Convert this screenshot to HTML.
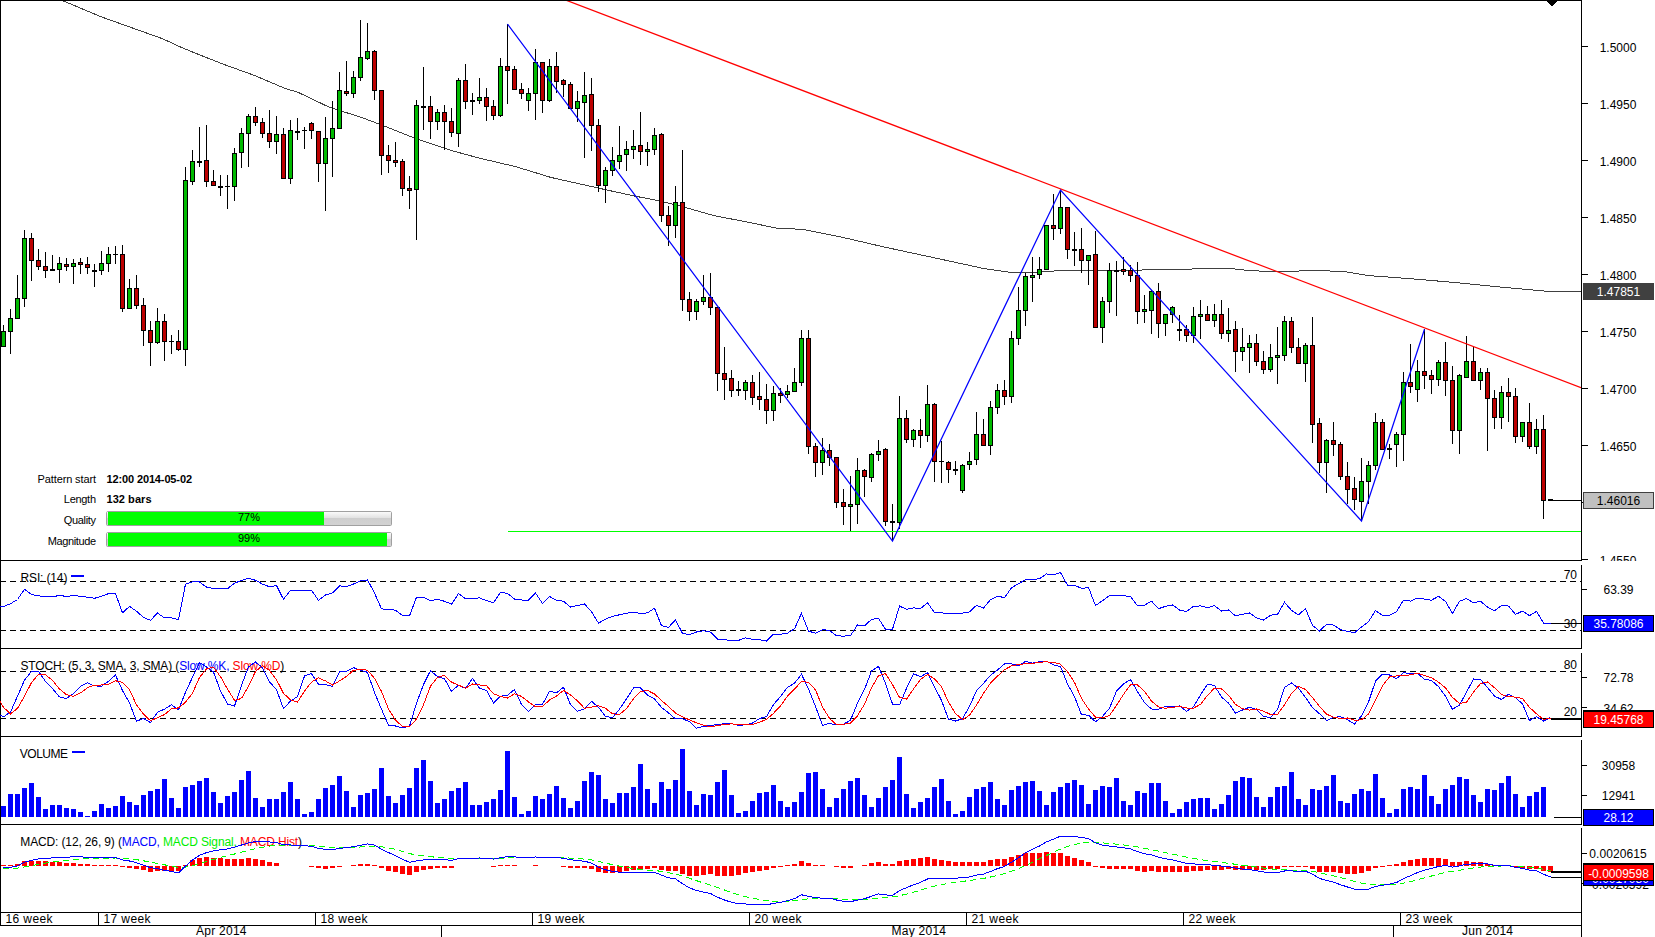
<!DOCTYPE html>
<html><head><meta charset="utf-8"><title>Chart</title>
<style>
html,body{margin:0;padding:0;background:#fff;}
body{width:1655px;height:937px;overflow:hidden;}
svg{display:block;font-family:"Liberation Sans",Arial,sans-serif;font-size:12px;}
.tah{font-family:"Liberation Sans",sans-serif;font-size:11px;}
</style></head><body>
<svg width="1655" height="937" viewBox="0 0 1655 937">
<rect width="1655" height="937" fill="#fff"/>
<g shape-rendering="crispEdges">
<rect x="0" y="0" width="1582" height="1" fill="#000" />
<rect x="0" y="0" width="1" height="926" fill="#000" />
<rect x="0" y="560" width="1582" height="1" fill="#000" />
<rect x="0" y="648" width="1582" height="1" fill="#000" />
<rect x="0" y="736" width="1582" height="1" fill="#000" />
<rect x="0" y="824" width="1582" height="1" fill="#000" />
<rect x="0" y="912" width="1582" height="1" fill="#000" />
<rect x="0" y="925" width="1582" height="1" fill="#000" />
<rect x="1581" y="0" width="1" height="561" fill="#000" />
<rect x="1581" y="565" width="1" height="84" fill="#000" />
<rect x="1581" y="653" width="1" height="84" fill="#000" />
<rect x="1581" y="740" width="1" height="85" fill="#000" />
<rect x="1581" y="828" width="1" height="109" fill="#000" />
</g>
<defs><clipPath id="cm"><rect x="1" y="1" width="1580" height="559"/></clipPath><linearGradient id="pg" x1="0" y1="0" x2="0" y2="1"><stop offset="0" stop-color="#fafafa"/><stop offset="0.45" stop-color="#e2e2e2"/><stop offset="0.5" stop-color="#cecece"/><stop offset="1" stop-color="#d2d2d2"/></linearGradient><clipPath id="cax"><rect x="1582" y="0" width="73" height="561"/></clipPath></defs>
<g clip-path="url(#cm)">
<polyline fill="none" stroke="#404040" stroke-width="1" shape-rendering="crispEdges" points="61.2,0.0 101.6,17.0 162.8,38.8 182.2,47.8 196.0,53.4 222.7,64.0 254.7,75.5 284.0,88.0 298.7,92.6 329.4,107.3 361.4,117.4 382.8,125.4 417.5,139.3 452.1,150.7 478.8,158.0 516.2,166.8 550.8,177.4 596.2,187.6 616.0,192.0 637.3,196.6 660.0,200.9 682.7,206.7 714.7,215.8 744.0,221.4 776.0,228.0 802.8,229.4 842.8,237.4 882.8,246.7 936.2,258.2 984.2,268.6 1010.9,272.4 1036.0,272.5 1062.7,270.3 1102.7,270.6 1156.0,269.8 1206.8,268.7 1230.8,268.5 1249.4,270.6 1276.1,271.7 1302.8,270.9 1316.1,270.6 1342.8,271.4 1369.5,275.7 1409.5,278.6 1456.0,282.6 1500.0,287.0 1550.0,291.5 1581.0,291.5"/>
<g shape-rendering="crispEdges">
<rect x="3" y="325" width="1" height="22" fill="#000" />
<rect x="1" y="331" width="5" height="16" fill="#000" />
<rect x="2" y="332" width="3" height="14" fill="#00ba00" />
<rect x="10" y="309" width="1" height="45" fill="#000" />
<rect x="8" y="318" width="5" height="14" fill="#000" />
<rect x="9" y="319" width="3" height="12" fill="#00ba00" />
<rect x="17" y="275" width="1" height="44" fill="#000" />
<rect x="15" y="298" width="5" height="21" fill="#000" />
<rect x="16" y="299" width="3" height="19" fill="#00ba00" />
<rect x="24" y="230" width="1" height="77" fill="#000" />
<rect x="22" y="238" width="5" height="61" fill="#000" />
<rect x="23" y="239" width="3" height="59" fill="#00ba00" />
<rect x="31" y="233" width="1" height="48" fill="#000" />
<rect x="29" y="238" width="5" height="23" fill="#000" />
<rect x="30" y="239" width="3" height="21" fill="#bc0000" />
<rect x="38" y="249" width="1" height="21" fill="#000" />
<rect x="36" y="260" width="5" height="7" fill="#000" />
<rect x="37" y="261" width="3" height="5" fill="#bc0000" />
<rect x="45" y="252" width="1" height="26" fill="#000" />
<rect x="43" y="266" width="5" height="5" fill="#000" />
<rect x="44" y="267" width="3" height="3" fill="#bc0000" />
<rect x="52" y="255" width="1" height="16" fill="#000" />
<rect x="50" y="269" width="5" height="2" fill="#000" />
<rect x="59" y="257" width="1" height="26" fill="#000" />
<rect x="57" y="263" width="5" height="7" fill="#000" />
<rect x="58" y="264" width="3" height="5" fill="#00ba00" />
<rect x="66" y="258" width="1" height="13" fill="#000" />
<rect x="64" y="264" width="5" height="3" fill="#000" />
<rect x="65" y="265" width="3" height="1" fill="#bc0000" />
<rect x="73" y="259" width="1" height="25" fill="#000" />
<rect x="71" y="263" width="5" height="4" fill="#000" />
<rect x="72" y="264" width="3" height="2" fill="#00ba00" />
<rect x="80" y="258" width="1" height="16" fill="#000" />
<rect x="78" y="262" width="5" height="3" fill="#000" />
<rect x="79" y="263" width="3" height="1" fill="#bc0000" />
<rect x="87" y="257" width="1" height="17" fill="#000" />
<rect x="85" y="264" width="5" height="4" fill="#000" />
<rect x="86" y="265" width="3" height="2" fill="#bc0000" />
<rect x="94" y="264" width="1" height="23" fill="#000" />
<rect x="92" y="270" width="5" height="2" fill="#000" />
<rect x="101" y="251" width="1" height="24" fill="#000" />
<rect x="99" y="263" width="5" height="8" fill="#000" />
<rect x="100" y="264" width="3" height="6" fill="#00ba00" />
<rect x="108" y="247" width="1" height="25" fill="#000" />
<rect x="106" y="254" width="5" height="10" fill="#000" />
<rect x="107" y="255" width="3" height="8" fill="#00ba00" />
<rect x="115" y="246" width="1" height="18" fill="#000" />
<rect x="113" y="254" width="5" height="1" fill="#000" />
<rect x="122" y="245" width="1" height="67" fill="#000" />
<rect x="120" y="254" width="5" height="55" fill="#000" />
<rect x="121" y="255" width="3" height="53" fill="#bc0000" />
<rect x="129" y="279" width="1" height="30" fill="#000" />
<rect x="127" y="288" width="5" height="21" fill="#000" />
<rect x="128" y="289" width="3" height="19" fill="#00ba00" />
<rect x="136" y="275" width="1" height="34" fill="#000" />
<rect x="134" y="288" width="5" height="18" fill="#000" />
<rect x="135" y="289" width="3" height="16" fill="#bc0000" />
<rect x="143" y="298" width="1" height="48" fill="#000" />
<rect x="141" y="305" width="5" height="26" fill="#000" />
<rect x="142" y="306" width="3" height="24" fill="#bc0000" />
<rect x="150" y="321" width="1" height="45" fill="#000" />
<rect x="148" y="330" width="5" height="13" fill="#000" />
<rect x="149" y="331" width="3" height="11" fill="#bc0000" />
<rect x="157" y="308" width="1" height="36" fill="#000" />
<rect x="155" y="321" width="5" height="22" fill="#000" />
<rect x="156" y="322" width="3" height="20" fill="#00ba00" />
<rect x="164" y="314" width="1" height="47" fill="#000" />
<rect x="162" y="321" width="5" height="21" fill="#000" />
<rect x="163" y="322" width="3" height="19" fill="#bc0000" />
<rect x="171" y="335" width="1" height="19" fill="#000" />
<rect x="169" y="341" width="5" height="1" fill="#000" />
<rect x="178" y="330" width="1" height="21" fill="#000" />
<rect x="176" y="341" width="5" height="9" fill="#000" />
<rect x="177" y="342" width="3" height="7" fill="#bc0000" />
<rect x="185" y="167" width="1" height="199" fill="#000" />
<rect x="183" y="180" width="5" height="170" fill="#000" />
<rect x="184" y="181" width="3" height="168" fill="#00ba00" />
<rect x="192" y="150" width="1" height="35" fill="#000" />
<rect x="190" y="161" width="5" height="21" fill="#000" />
<rect x="191" y="162" width="3" height="19" fill="#00ba00" />
<rect x="199" y="127" width="1" height="40" fill="#000" />
<rect x="197" y="161" width="5" height="2" fill="#000" />
<rect x="206" y="125" width="1" height="62" fill="#000" />
<rect x="204" y="160" width="5" height="22" fill="#000" />
<rect x="205" y="161" width="3" height="20" fill="#bc0000" />
<rect x="213" y="170" width="1" height="16" fill="#000" />
<rect x="211" y="181" width="5" height="5" fill="#000" />
<rect x="212" y="182" width="3" height="3" fill="#bc0000" />
<rect x="220" y="175" width="1" height="21" fill="#000" />
<rect x="218" y="186" width="5" height="2" fill="#000" />
<rect x="227" y="175" width="1" height="34" fill="#000" />
<rect x="225" y="186" width="5" height="1" fill="#000" />
<rect x="234" y="148" width="1" height="53" fill="#000" />
<rect x="232" y="153" width="5" height="34" fill="#000" />
<rect x="233" y="154" width="3" height="32" fill="#00ba00" />
<rect x="241" y="128" width="1" height="40" fill="#000" />
<rect x="239" y="133" width="5" height="20" fill="#000" />
<rect x="240" y="134" width="3" height="18" fill="#00ba00" />
<rect x="248" y="114" width="1" height="53" fill="#000" />
<rect x="246" y="116" width="5" height="18" fill="#000" />
<rect x="247" y="117" width="3" height="16" fill="#00ba00" />
<rect x="255" y="107" width="1" height="19" fill="#000" />
<rect x="253" y="116" width="5" height="7" fill="#000" />
<rect x="254" y="117" width="3" height="5" fill="#bc0000" />
<rect x="262" y="118" width="1" height="20" fill="#000" />
<rect x="260" y="122" width="5" height="12" fill="#000" />
<rect x="261" y="123" width="3" height="10" fill="#bc0000" />
<rect x="269" y="110" width="1" height="38" fill="#000" />
<rect x="267" y="133" width="5" height="9" fill="#000" />
<rect x="268" y="134" width="3" height="7" fill="#bc0000" />
<rect x="276" y="116" width="1" height="38" fill="#000" />
<rect x="274" y="134" width="5" height="8" fill="#000" />
<rect x="275" y="135" width="3" height="6" fill="#00ba00" />
<rect x="283" y="128" width="1" height="51" fill="#000" />
<rect x="281" y="134" width="5" height="45" fill="#000" />
<rect x="282" y="135" width="3" height="43" fill="#bc0000" />
<rect x="290" y="120" width="1" height="64" fill="#000" />
<rect x="288" y="130" width="5" height="49" fill="#000" />
<rect x="289" y="131" width="3" height="47" fill="#00ba00" />
<rect x="297" y="118" width="1" height="22" fill="#000" />
<rect x="295" y="131" width="5" height="2" fill="#000" />
<rect x="304" y="127" width="1" height="22" fill="#000" />
<rect x="302" y="130" width="5" height="1" fill="#000" />
<rect x="311" y="122" width="1" height="17" fill="#000" />
<rect x="309" y="123" width="5" height="8" fill="#000" />
<rect x="310" y="124" width="3" height="6" fill="#bc0000" />
<rect x="318" y="131" width="1" height="51" fill="#000" />
<rect x="316" y="131" width="5" height="33" fill="#000" />
<rect x="317" y="132" width="3" height="31" fill="#bc0000" />
<rect x="325" y="117" width="1" height="94" fill="#000" />
<rect x="323" y="138" width="5" height="26" fill="#000" />
<rect x="324" y="139" width="3" height="24" fill="#00ba00" />
<rect x="332" y="101" width="1" height="76" fill="#000" />
<rect x="330" y="128" width="5" height="11" fill="#000" />
<rect x="331" y="129" width="3" height="9" fill="#00ba00" />
<rect x="339" y="72" width="1" height="57" fill="#000" />
<rect x="337" y="90" width="5" height="39" fill="#000" />
<rect x="338" y="91" width="3" height="37" fill="#00ba00" />
<rect x="346" y="61" width="1" height="35" fill="#000" />
<rect x="344" y="91" width="5" height="3" fill="#000" />
<rect x="345" y="92" width="3" height="1" fill="#bc0000" />
<rect x="353" y="71" width="1" height="27" fill="#000" />
<rect x="351" y="77" width="5" height="17" fill="#000" />
<rect x="352" y="78" width="3" height="15" fill="#00ba00" />
<rect x="360" y="20" width="1" height="61" fill="#000" />
<rect x="358" y="57" width="5" height="21" fill="#000" />
<rect x="359" y="58" width="3" height="19" fill="#00ba00" />
<rect x="367" y="23" width="1" height="37" fill="#000" />
<rect x="365" y="51" width="5" height="8" fill="#000" />
<rect x="366" y="52" width="3" height="6" fill="#00ba00" />
<rect x="374" y="50" width="1" height="50" fill="#000" />
<rect x="372" y="51" width="5" height="40" fill="#000" />
<rect x="373" y="52" width="3" height="38" fill="#bc0000" />
<rect x="381" y="90" width="1" height="85" fill="#000" />
<rect x="379" y="90" width="5" height="66" fill="#000" />
<rect x="380" y="91" width="3" height="64" fill="#bc0000" />
<rect x="388" y="145" width="1" height="28" fill="#000" />
<rect x="386" y="155" width="5" height="6" fill="#000" />
<rect x="387" y="156" width="3" height="4" fill="#bc0000" />
<rect x="395" y="142" width="1" height="25" fill="#000" />
<rect x="393" y="160" width="5" height="3" fill="#000" />
<rect x="394" y="161" width="3" height="1" fill="#bc0000" />
<rect x="402" y="159" width="1" height="37" fill="#000" />
<rect x="400" y="161" width="5" height="28" fill="#000" />
<rect x="401" y="162" width="3" height="26" fill="#bc0000" />
<rect x="409" y="176" width="1" height="33" fill="#000" />
<rect x="407" y="188" width="5" height="3" fill="#000" />
<rect x="408" y="189" width="3" height="1" fill="#bc0000" />
<rect x="416" y="100" width="1" height="140" fill="#000" />
<rect x="414" y="105" width="5" height="85" fill="#000" />
<rect x="415" y="106" width="3" height="83" fill="#00ba00" />
<rect x="423" y="67" width="1" height="63" fill="#000" />
<rect x="421" y="106" width="5" height="2" fill="#000" />
<rect x="430" y="96" width="1" height="43" fill="#000" />
<rect x="428" y="106" width="5" height="16" fill="#000" />
<rect x="429" y="107" width="3" height="14" fill="#bc0000" />
<rect x="437" y="109" width="1" height="21" fill="#000" />
<rect x="435" y="112" width="5" height="10" fill="#000" />
<rect x="436" y="113" width="3" height="8" fill="#00ba00" />
<rect x="444" y="105" width="1" height="45" fill="#000" />
<rect x="442" y="112" width="5" height="10" fill="#000" />
<rect x="443" y="113" width="3" height="8" fill="#bc0000" />
<rect x="451" y="108" width="1" height="29" fill="#000" />
<rect x="449" y="121" width="5" height="12" fill="#000" />
<rect x="450" y="122" width="3" height="10" fill="#bc0000" />
<rect x="458" y="78" width="1" height="69" fill="#000" />
<rect x="456" y="80" width="5" height="54" fill="#000" />
<rect x="457" y="81" width="3" height="52" fill="#00ba00" />
<rect x="465" y="64" width="1" height="45" fill="#000" />
<rect x="463" y="80" width="5" height="22" fill="#000" />
<rect x="464" y="81" width="3" height="20" fill="#bc0000" />
<rect x="472" y="93" width="1" height="22" fill="#000" />
<rect x="470" y="100" width="5" height="2" fill="#000" />
<rect x="479" y="78" width="1" height="26" fill="#000" />
<rect x="477" y="97" width="5" height="4" fill="#000" />
<rect x="478" y="98" width="3" height="2" fill="#00ba00" />
<rect x="486" y="88" width="1" height="33" fill="#000" />
<rect x="484" y="97" width="5" height="10" fill="#000" />
<rect x="485" y="98" width="3" height="8" fill="#bc0000" />
<rect x="493" y="100" width="1" height="20" fill="#000" />
<rect x="491" y="106" width="5" height="10" fill="#000" />
<rect x="492" y="107" width="3" height="8" fill="#bc0000" />
<rect x="500" y="58" width="1" height="59" fill="#000" />
<rect x="498" y="66" width="5" height="50" fill="#000" />
<rect x="499" y="67" width="3" height="48" fill="#00ba00" />
<rect x="507" y="24" width="1" height="80" fill="#000" />
<rect x="505" y="66" width="5" height="5" fill="#000" />
<rect x="506" y="67" width="3" height="3" fill="#bc0000" />
<rect x="514" y="66" width="1" height="24" fill="#000" />
<rect x="512" y="69" width="5" height="21" fill="#000" />
<rect x="513" y="70" width="3" height="19" fill="#bc0000" />
<rect x="521" y="83" width="1" height="16" fill="#000" />
<rect x="519" y="89" width="5" height="5" fill="#000" />
<rect x="520" y="90" width="3" height="3" fill="#bc0000" />
<rect x="528" y="88" width="1" height="23" fill="#000" />
<rect x="526" y="93" width="5" height="8" fill="#000" />
<rect x="527" y="94" width="3" height="6" fill="#00ba00" />
<rect x="535" y="49" width="1" height="71" fill="#000" />
<rect x="533" y="62" width="5" height="32" fill="#000" />
<rect x="534" y="63" width="3" height="30" fill="#00ba00" />
<rect x="542" y="62" width="1" height="51" fill="#000" />
<rect x="540" y="62" width="5" height="39" fill="#000" />
<rect x="541" y="63" width="3" height="37" fill="#bc0000" />
<rect x="549" y="59" width="1" height="43" fill="#000" />
<rect x="547" y="66" width="5" height="35" fill="#000" />
<rect x="548" y="67" width="3" height="33" fill="#00ba00" />
<rect x="556" y="52" width="1" height="41" fill="#000" />
<rect x="554" y="66" width="5" height="16" fill="#000" />
<rect x="555" y="67" width="3" height="14" fill="#bc0000" />
<rect x="563" y="79" width="1" height="18" fill="#000" />
<rect x="561" y="80" width="5" height="5" fill="#000" />
<rect x="562" y="81" width="3" height="3" fill="#bc0000" />
<rect x="570" y="82" width="1" height="27" fill="#000" />
<rect x="568" y="84" width="5" height="25" fill="#000" />
<rect x="569" y="85" width="3" height="23" fill="#bc0000" />
<rect x="577" y="91" width="1" height="31" fill="#000" />
<rect x="575" y="101" width="5" height="8" fill="#000" />
<rect x="576" y="102" width="3" height="6" fill="#00ba00" />
<rect x="584" y="72" width="1" height="86" fill="#000" />
<rect x="582" y="95" width="5" height="8" fill="#000" />
<rect x="583" y="96" width="3" height="6" fill="#00ba00" />
<rect x="591" y="78" width="1" height="73" fill="#000" />
<rect x="589" y="94" width="5" height="32" fill="#000" />
<rect x="590" y="95" width="3" height="30" fill="#bc0000" />
<rect x="598" y="119" width="1" height="73" fill="#000" />
<rect x="596" y="125" width="5" height="61" fill="#000" />
<rect x="597" y="126" width="3" height="59" fill="#bc0000" />
<rect x="605" y="167" width="1" height="36" fill="#000" />
<rect x="603" y="170" width="5" height="16" fill="#000" />
<rect x="604" y="171" width="3" height="14" fill="#00ba00" />
<rect x="612" y="147" width="1" height="29" fill="#000" />
<rect x="610" y="160" width="5" height="11" fill="#000" />
<rect x="611" y="161" width="3" height="9" fill="#00ba00" />
<rect x="619" y="126" width="1" height="43" fill="#000" />
<rect x="617" y="155" width="5" height="7" fill="#000" />
<rect x="618" y="156" width="3" height="5" fill="#00ba00" />
<rect x="626" y="141" width="1" height="30" fill="#000" />
<rect x="624" y="149" width="5" height="6" fill="#000" />
<rect x="625" y="150" width="3" height="4" fill="#00ba00" />
<rect x="633" y="130" width="1" height="29" fill="#000" />
<rect x="631" y="146" width="5" height="4" fill="#000" />
<rect x="632" y="147" width="3" height="2" fill="#00ba00" />
<rect x="640" y="112" width="1" height="53" fill="#000" />
<rect x="638" y="145" width="5" height="7" fill="#000" />
<rect x="639" y="146" width="3" height="5" fill="#bc0000" />
<rect x="647" y="142" width="1" height="24" fill="#000" />
<rect x="645" y="149" width="5" height="3" fill="#000" />
<rect x="646" y="150" width="3" height="1" fill="#00ba00" />
<rect x="654" y="128" width="1" height="27" fill="#000" />
<rect x="652" y="135" width="5" height="15" fill="#000" />
<rect x="653" y="136" width="3" height="13" fill="#00ba00" />
<rect x="661" y="133" width="1" height="89" fill="#000" />
<rect x="659" y="134" width="5" height="82" fill="#000" />
<rect x="660" y="135" width="3" height="80" fill="#bc0000" />
<rect x="668" y="206" width="1" height="40" fill="#000" />
<rect x="666" y="215" width="5" height="11" fill="#000" />
<rect x="667" y="216" width="3" height="9" fill="#bc0000" />
<rect x="675" y="186" width="1" height="52" fill="#000" />
<rect x="673" y="202" width="5" height="24" fill="#000" />
<rect x="674" y="203" width="3" height="22" fill="#00ba00" />
<rect x="682" y="150" width="1" height="161" fill="#000" />
<rect x="680" y="202" width="5" height="98" fill="#000" />
<rect x="681" y="203" width="3" height="96" fill="#bc0000" />
<rect x="689" y="292" width="1" height="29" fill="#000" />
<rect x="687" y="299" width="5" height="13" fill="#000" />
<rect x="688" y="300" width="3" height="11" fill="#bc0000" />
<rect x="696" y="299" width="1" height="21" fill="#000" />
<rect x="694" y="301" width="5" height="11" fill="#000" />
<rect x="695" y="302" width="3" height="9" fill="#00ba00" />
<rect x="703" y="275" width="1" height="30" fill="#000" />
<rect x="701" y="297" width="5" height="5" fill="#000" />
<rect x="702" y="298" width="3" height="3" fill="#00ba00" />
<rect x="710" y="273" width="1" height="42" fill="#000" />
<rect x="708" y="297" width="5" height="11" fill="#000" />
<rect x="709" y="298" width="3" height="9" fill="#bc0000" />
<rect x="717" y="307" width="1" height="84" fill="#000" />
<rect x="715" y="307" width="5" height="67" fill="#000" />
<rect x="716" y="308" width="3" height="65" fill="#bc0000" />
<rect x="724" y="347" width="1" height="53" fill="#000" />
<rect x="722" y="373" width="5" height="7" fill="#000" />
<rect x="723" y="374" width="3" height="5" fill="#bc0000" />
<rect x="731" y="370" width="1" height="27" fill="#000" />
<rect x="729" y="378" width="5" height="13" fill="#000" />
<rect x="730" y="379" width="3" height="11" fill="#bc0000" />
<rect x="738" y="381" width="1" height="15" fill="#000" />
<rect x="736" y="389" width="5" height="2" fill="#000" />
<rect x="745" y="380" width="1" height="20" fill="#000" />
<rect x="743" y="382" width="5" height="9" fill="#000" />
<rect x="744" y="383" width="3" height="7" fill="#00ba00" />
<rect x="752" y="375" width="1" height="30" fill="#000" />
<rect x="750" y="382" width="5" height="16" fill="#000" />
<rect x="751" y="383" width="3" height="14" fill="#bc0000" />
<rect x="759" y="372" width="1" height="38" fill="#000" />
<rect x="757" y="396" width="5" height="4" fill="#000" />
<rect x="758" y="397" width="3" height="2" fill="#bc0000" />
<rect x="766" y="384" width="1" height="40" fill="#000" />
<rect x="764" y="399" width="5" height="12" fill="#000" />
<rect x="765" y="400" width="3" height="10" fill="#bc0000" />
<rect x="773" y="386" width="1" height="35" fill="#000" />
<rect x="771" y="393" width="5" height="18" fill="#000" />
<rect x="772" y="394" width="3" height="16" fill="#00ba00" />
<rect x="780" y="388" width="1" height="15" fill="#000" />
<rect x="778" y="393" width="5" height="3" fill="#000" />
<rect x="779" y="394" width="3" height="1" fill="#bc0000" />
<rect x="787" y="385" width="1" height="13" fill="#000" />
<rect x="785" y="391" width="5" height="4" fill="#000" />
<rect x="786" y="392" width="3" height="2" fill="#00ba00" />
<rect x="794" y="368" width="1" height="24" fill="#000" />
<rect x="792" y="382" width="5" height="10" fill="#000" />
<rect x="793" y="383" width="3" height="8" fill="#00ba00" />
<rect x="801" y="330" width="1" height="56" fill="#000" />
<rect x="799" y="338" width="5" height="45" fill="#000" />
<rect x="800" y="339" width="3" height="43" fill="#00ba00" />
<rect x="808" y="330" width="1" height="124" fill="#000" />
<rect x="806" y="338" width="5" height="109" fill="#000" />
<rect x="807" y="339" width="3" height="107" fill="#bc0000" />
<rect x="815" y="443" width="1" height="34" fill="#000" />
<rect x="813" y="446" width="5" height="17" fill="#000" />
<rect x="814" y="447" width="3" height="15" fill="#bc0000" />
<rect x="822" y="438" width="1" height="37" fill="#000" />
<rect x="820" y="450" width="5" height="13" fill="#000" />
<rect x="821" y="451" width="3" height="11" fill="#00ba00" />
<rect x="829" y="444" width="1" height="22" fill="#000" />
<rect x="827" y="450" width="5" height="8" fill="#000" />
<rect x="828" y="451" width="3" height="6" fill="#bc0000" />
<rect x="836" y="457" width="1" height="51" fill="#000" />
<rect x="834" y="457" width="5" height="46" fill="#000" />
<rect x="835" y="458" width="3" height="44" fill="#bc0000" />
<rect x="843" y="489" width="1" height="36" fill="#000" />
<rect x="841" y="502" width="5" height="5" fill="#000" />
<rect x="842" y="503" width="3" height="3" fill="#bc0000" />
<rect x="850" y="476" width="1" height="55" fill="#000" />
<rect x="848" y="504" width="5" height="3" fill="#000" />
<rect x="849" y="505" width="3" height="1" fill="#00ba00" />
<rect x="857" y="458" width="1" height="66" fill="#000" />
<rect x="855" y="470" width="5" height="35" fill="#000" />
<rect x="856" y="471" width="3" height="33" fill="#00ba00" />
<rect x="864" y="469" width="1" height="28" fill="#000" />
<rect x="862" y="470" width="5" height="7" fill="#000" />
<rect x="863" y="471" width="3" height="5" fill="#bc0000" />
<rect x="871" y="453" width="1" height="29" fill="#000" />
<rect x="869" y="454" width="5" height="24" fill="#000" />
<rect x="870" y="455" width="3" height="22" fill="#00ba00" />
<rect x="878" y="440" width="1" height="21" fill="#000" />
<rect x="876" y="451" width="5" height="4" fill="#000" />
<rect x="877" y="452" width="3" height="2" fill="#00ba00" />
<rect x="885" y="448" width="1" height="78" fill="#000" />
<rect x="883" y="449" width="5" height="73" fill="#000" />
<rect x="884" y="450" width="3" height="71" fill="#bc0000" />
<rect x="892" y="504" width="1" height="37" fill="#000" />
<rect x="890" y="521" width="5" height="2" fill="#000" />
<rect x="899" y="396" width="1" height="133" fill="#000" />
<rect x="897" y="418" width="5" height="105" fill="#000" />
<rect x="898" y="419" width="3" height="103" fill="#00ba00" />
<rect x="906" y="410" width="1" height="33" fill="#000" />
<rect x="904" y="418" width="5" height="22" fill="#000" />
<rect x="905" y="419" width="3" height="20" fill="#bc0000" />
<rect x="913" y="429" width="1" height="18" fill="#000" />
<rect x="911" y="430" width="5" height="10" fill="#000" />
<rect x="912" y="431" width="3" height="8" fill="#00ba00" />
<rect x="920" y="419" width="1" height="29" fill="#000" />
<rect x="918" y="430" width="5" height="6" fill="#000" />
<rect x="919" y="431" width="3" height="4" fill="#bc0000" />
<rect x="927" y="385" width="1" height="57" fill="#000" />
<rect x="925" y="404" width="5" height="32" fill="#000" />
<rect x="926" y="405" width="3" height="30" fill="#00ba00" />
<rect x="934" y="403" width="1" height="79" fill="#000" />
<rect x="932" y="404" width="5" height="58" fill="#000" />
<rect x="933" y="405" width="3" height="56" fill="#bc0000" />
<rect x="941" y="441" width="1" height="42" fill="#000" />
<rect x="939" y="461" width="5" height="1" fill="#000" />
<rect x="948" y="461" width="1" height="22" fill="#000" />
<rect x="946" y="462" width="5" height="8" fill="#000" />
<rect x="947" y="463" width="3" height="6" fill="#bc0000" />
<rect x="955" y="461" width="1" height="14" fill="#000" />
<rect x="953" y="469" width="5" height="2" fill="#000" />
<rect x="962" y="464" width="1" height="29" fill="#000" />
<rect x="960" y="465" width="5" height="26" fill="#000" />
<rect x="961" y="466" width="3" height="24" fill="#00ba00" />
<rect x="969" y="452" width="1" height="18" fill="#000" />
<rect x="967" y="461" width="5" height="4" fill="#000" />
<rect x="968" y="462" width="3" height="2" fill="#00ba00" />
<rect x="976" y="412" width="1" height="53" fill="#000" />
<rect x="974" y="434" width="5" height="26" fill="#000" />
<rect x="975" y="435" width="3" height="24" fill="#00ba00" />
<rect x="983" y="419" width="1" height="27" fill="#000" />
<rect x="981" y="434" width="5" height="12" fill="#000" />
<rect x="982" y="435" width="3" height="10" fill="#bc0000" />
<rect x="990" y="401" width="1" height="54" fill="#000" />
<rect x="988" y="407" width="5" height="39" fill="#000" />
<rect x="989" y="408" width="3" height="37" fill="#00ba00" />
<rect x="997" y="384" width="1" height="30" fill="#000" />
<rect x="995" y="390" width="5" height="18" fill="#000" />
<rect x="996" y="391" width="3" height="16" fill="#00ba00" />
<rect x="1004" y="380" width="1" height="25" fill="#000" />
<rect x="1002" y="390" width="5" height="7" fill="#000" />
<rect x="1003" y="391" width="3" height="5" fill="#bc0000" />
<rect x="1011" y="331" width="1" height="72" fill="#000" />
<rect x="1009" y="338" width="5" height="59" fill="#000" />
<rect x="1010" y="339" width="3" height="57" fill="#00ba00" />
<rect x="1018" y="287" width="1" height="58" fill="#000" />
<rect x="1016" y="310" width="5" height="29" fill="#000" />
<rect x="1017" y="311" width="3" height="27" fill="#00ba00" />
<rect x="1025" y="273" width="1" height="53" fill="#000" />
<rect x="1023" y="276" width="5" height="35" fill="#000" />
<rect x="1024" y="277" width="3" height="33" fill="#00ba00" />
<rect x="1032" y="257" width="1" height="45" fill="#000" />
<rect x="1030" y="275" width="5" height="3" fill="#000" />
<rect x="1031" y="276" width="3" height="1" fill="#00ba00" />
<rect x="1039" y="257" width="1" height="22" fill="#000" />
<rect x="1037" y="269" width="5" height="6" fill="#000" />
<rect x="1038" y="270" width="3" height="4" fill="#00ba00" />
<rect x="1046" y="225" width="1" height="45" fill="#000" />
<rect x="1044" y="225" width="5" height="45" fill="#000" />
<rect x="1045" y="226" width="3" height="43" fill="#00ba00" />
<rect x="1053" y="194" width="1" height="46" fill="#000" />
<rect x="1051" y="225" width="5" height="4" fill="#000" />
<rect x="1052" y="226" width="3" height="2" fill="#bc0000" />
<rect x="1060" y="190" width="1" height="44" fill="#000" />
<rect x="1058" y="207" width="5" height="22" fill="#000" />
<rect x="1059" y="208" width="3" height="20" fill="#00ba00" />
<rect x="1067" y="207" width="1" height="52" fill="#000" />
<rect x="1065" y="207" width="5" height="43" fill="#000" />
<rect x="1066" y="208" width="3" height="41" fill="#bc0000" />
<rect x="1074" y="232" width="1" height="34" fill="#000" />
<rect x="1072" y="249" width="5" height="2" fill="#000" />
<rect x="1081" y="228" width="1" height="45" fill="#000" />
<rect x="1079" y="249" width="5" height="12" fill="#000" />
<rect x="1080" y="250" width="3" height="10" fill="#bc0000" />
<rect x="1088" y="255" width="1" height="30" fill="#000" />
<rect x="1086" y="255" width="5" height="6" fill="#000" />
<rect x="1087" y="256" width="3" height="4" fill="#00ba00" />
<rect x="1095" y="231" width="1" height="97" fill="#000" />
<rect x="1093" y="254" width="5" height="74" fill="#000" />
<rect x="1094" y="255" width="3" height="72" fill="#bc0000" />
<rect x="1102" y="297" width="1" height="46" fill="#000" />
<rect x="1100" y="301" width="5" height="27" fill="#000" />
<rect x="1101" y="302" width="3" height="25" fill="#00ba00" />
<rect x="1109" y="263" width="1" height="50" fill="#000" />
<rect x="1107" y="270" width="5" height="32" fill="#000" />
<rect x="1108" y="271" width="3" height="30" fill="#00ba00" />
<rect x="1116" y="261" width="1" height="55" fill="#000" />
<rect x="1114" y="270" width="5" height="2" fill="#000" />
<rect x="1123" y="257" width="1" height="18" fill="#000" />
<rect x="1121" y="269" width="5" height="3" fill="#000" />
<rect x="1122" y="270" width="3" height="1" fill="#bc0000" />
<rect x="1130" y="265" width="1" height="17" fill="#000" />
<rect x="1128" y="270" width="5" height="6" fill="#000" />
<rect x="1129" y="271" width="3" height="4" fill="#bc0000" />
<rect x="1137" y="262" width="1" height="62" fill="#000" />
<rect x="1135" y="275" width="5" height="37" fill="#000" />
<rect x="1136" y="276" width="3" height="35" fill="#bc0000" />
<rect x="1144" y="295" width="1" height="28" fill="#000" />
<rect x="1142" y="309" width="5" height="3" fill="#000" />
<rect x="1143" y="310" width="3" height="1" fill="#00ba00" />
<rect x="1151" y="290" width="1" height="44" fill="#000" />
<rect x="1149" y="291" width="5" height="20" fill="#000" />
<rect x="1150" y="292" width="3" height="18" fill="#00ba00" />
<rect x="1158" y="283" width="1" height="55" fill="#000" />
<rect x="1156" y="291" width="5" height="33" fill="#000" />
<rect x="1157" y="292" width="3" height="31" fill="#bc0000" />
<rect x="1165" y="314" width="1" height="22" fill="#000" />
<rect x="1163" y="314" width="5" height="10" fill="#000" />
<rect x="1164" y="315" width="3" height="8" fill="#00ba00" />
<rect x="1172" y="306" width="1" height="17" fill="#000" />
<rect x="1170" y="307" width="5" height="8" fill="#000" />
<rect x="1171" y="308" width="3" height="6" fill="#00ba00" />
<rect x="1179" y="315" width="1" height="26" fill="#000" />
<rect x="1177" y="329" width="5" height="2" fill="#000" />
<rect x="1186" y="325" width="1" height="17" fill="#000" />
<rect x="1184" y="329" width="5" height="7" fill="#000" />
<rect x="1185" y="330" width="3" height="5" fill="#bc0000" />
<rect x="1193" y="307" width="1" height="36" fill="#000" />
<rect x="1191" y="316" width="5" height="20" fill="#000" />
<rect x="1192" y="317" width="3" height="18" fill="#00ba00" />
<rect x="1200" y="300" width="1" height="39" fill="#000" />
<rect x="1198" y="314" width="5" height="3" fill="#000" />
<rect x="1199" y="315" width="3" height="1" fill="#00ba00" />
<rect x="1207" y="306" width="1" height="15" fill="#000" />
<rect x="1205" y="314" width="5" height="7" fill="#000" />
<rect x="1206" y="315" width="3" height="5" fill="#bc0000" />
<rect x="1214" y="304" width="1" height="23" fill="#000" />
<rect x="1212" y="314" width="5" height="7" fill="#000" />
<rect x="1213" y="315" width="3" height="5" fill="#00ba00" />
<rect x="1221" y="300" width="1" height="39" fill="#000" />
<rect x="1219" y="314" width="5" height="20" fill="#000" />
<rect x="1220" y="315" width="3" height="18" fill="#bc0000" />
<rect x="1228" y="308" width="1" height="34" fill="#000" />
<rect x="1226" y="330" width="5" height="4" fill="#000" />
<rect x="1227" y="331" width="3" height="2" fill="#00ba00" />
<rect x="1235" y="321" width="1" height="51" fill="#000" />
<rect x="1233" y="329" width="5" height="23" fill="#000" />
<rect x="1234" y="330" width="3" height="21" fill="#bc0000" />
<rect x="1242" y="328" width="1" height="33" fill="#000" />
<rect x="1240" y="347" width="5" height="5" fill="#000" />
<rect x="1241" y="348" width="3" height="3" fill="#00ba00" />
<rect x="1249" y="335" width="1" height="38" fill="#000" />
<rect x="1247" y="343" width="5" height="5" fill="#000" />
<rect x="1248" y="344" width="3" height="3" fill="#00ba00" />
<rect x="1256" y="334" width="1" height="32" fill="#000" />
<rect x="1254" y="343" width="5" height="19" fill="#000" />
<rect x="1255" y="344" width="3" height="17" fill="#bc0000" />
<rect x="1263" y="351" width="1" height="23" fill="#000" />
<rect x="1261" y="361" width="5" height="9" fill="#000" />
<rect x="1262" y="362" width="3" height="7" fill="#bc0000" />
<rect x="1270" y="344" width="1" height="28" fill="#000" />
<rect x="1268" y="357" width="5" height="13" fill="#000" />
<rect x="1269" y="358" width="3" height="11" fill="#00ba00" />
<rect x="1277" y="327" width="1" height="57" fill="#000" />
<rect x="1275" y="355" width="5" height="3" fill="#000" />
<rect x="1276" y="356" width="3" height="1" fill="#00ba00" />
<rect x="1284" y="316" width="1" height="45" fill="#000" />
<rect x="1282" y="321" width="5" height="35" fill="#000" />
<rect x="1283" y="322" width="3" height="33" fill="#00ba00" />
<rect x="1291" y="317" width="1" height="36" fill="#000" />
<rect x="1289" y="321" width="5" height="27" fill="#000" />
<rect x="1290" y="322" width="3" height="25" fill="#bc0000" />
<rect x="1298" y="338" width="1" height="26" fill="#000" />
<rect x="1296" y="347" width="5" height="17" fill="#000" />
<rect x="1297" y="348" width="3" height="15" fill="#bc0000" />
<rect x="1305" y="343" width="1" height="39" fill="#000" />
<rect x="1303" y="345" width="5" height="19" fill="#000" />
<rect x="1304" y="346" width="3" height="17" fill="#00ba00" />
<rect x="1312" y="317" width="1" height="126" fill="#000" />
<rect x="1310" y="345" width="5" height="80" fill="#000" />
<rect x="1311" y="346" width="3" height="78" fill="#bc0000" />
<rect x="1319" y="418" width="1" height="55" fill="#000" />
<rect x="1317" y="423" width="5" height="40" fill="#000" />
<rect x="1318" y="424" width="3" height="38" fill="#bc0000" />
<rect x="1326" y="439" width="1" height="54" fill="#000" />
<rect x="1324" y="440" width="5" height="23" fill="#000" />
<rect x="1325" y="441" width="3" height="21" fill="#00ba00" />
<rect x="1333" y="422" width="1" height="34" fill="#000" />
<rect x="1331" y="440" width="5" height="5" fill="#000" />
<rect x="1332" y="441" width="3" height="3" fill="#bc0000" />
<rect x="1340" y="442" width="1" height="38" fill="#000" />
<rect x="1338" y="444" width="5" height="33" fill="#000" />
<rect x="1339" y="445" width="3" height="31" fill="#bc0000" />
<rect x="1347" y="462" width="1" height="42" fill="#000" />
<rect x="1345" y="476" width="5" height="14" fill="#000" />
<rect x="1346" y="477" width="3" height="12" fill="#bc0000" />
<rect x="1354" y="477" width="1" height="33" fill="#000" />
<rect x="1352" y="488" width="5" height="12" fill="#000" />
<rect x="1353" y="489" width="3" height="10" fill="#bc0000" />
<rect x="1361" y="458" width="1" height="63" fill="#000" />
<rect x="1359" y="481" width="5" height="21" fill="#000" />
<rect x="1360" y="482" width="3" height="19" fill="#00ba00" />
<rect x="1368" y="461" width="1" height="43" fill="#000" />
<rect x="1366" y="465" width="5" height="17" fill="#000" />
<rect x="1367" y="466" width="3" height="15" fill="#00ba00" />
<rect x="1375" y="413" width="1" height="57" fill="#000" />
<rect x="1373" y="422" width="5" height="44" fill="#000" />
<rect x="1374" y="423" width="3" height="42" fill="#00ba00" />
<rect x="1382" y="419" width="1" height="31" fill="#000" />
<rect x="1380" y="422" width="5" height="28" fill="#000" />
<rect x="1381" y="423" width="3" height="26" fill="#bc0000" />
<rect x="1389" y="444" width="1" height="15" fill="#000" />
<rect x="1387" y="448" width="5" height="2" fill="#000" />
<rect x="1396" y="432" width="1" height="35" fill="#000" />
<rect x="1394" y="434" width="5" height="11" fill="#000" />
<rect x="1395" y="435" width="3" height="9" fill="#00ba00" />
<rect x="1403" y="372" width="1" height="89" fill="#000" />
<rect x="1401" y="382" width="5" height="53" fill="#000" />
<rect x="1402" y="383" width="3" height="51" fill="#00ba00" />
<rect x="1410" y="344" width="1" height="49" fill="#000" />
<rect x="1408" y="382" width="5" height="5" fill="#000" />
<rect x="1409" y="383" width="3" height="3" fill="#bc0000" />
<rect x="1417" y="360" width="1" height="42" fill="#000" />
<rect x="1415" y="371" width="5" height="19" fill="#000" />
<rect x="1416" y="372" width="3" height="17" fill="#00ba00" />
<rect x="1424" y="329" width="1" height="60" fill="#000" />
<rect x="1422" y="371" width="5" height="5" fill="#000" />
<rect x="1423" y="372" width="3" height="3" fill="#bc0000" />
<rect x="1431" y="370" width="1" height="24" fill="#000" />
<rect x="1429" y="375" width="5" height="5" fill="#000" />
<rect x="1430" y="376" width="3" height="3" fill="#bc0000" />
<rect x="1438" y="360" width="1" height="26" fill="#000" />
<rect x="1436" y="362" width="5" height="18" fill="#000" />
<rect x="1437" y="363" width="3" height="16" fill="#00ba00" />
<rect x="1445" y="342" width="1" height="54" fill="#000" />
<rect x="1443" y="362" width="5" height="19" fill="#000" />
<rect x="1444" y="363" width="3" height="17" fill="#bc0000" />
<rect x="1452" y="366" width="1" height="78" fill="#000" />
<rect x="1450" y="380" width="5" height="51" fill="#000" />
<rect x="1451" y="381" width="3" height="49" fill="#bc0000" />
<rect x="1459" y="374" width="1" height="80" fill="#000" />
<rect x="1457" y="375" width="5" height="56" fill="#000" />
<rect x="1458" y="376" width="3" height="54" fill="#00ba00" />
<rect x="1466" y="336" width="1" height="42" fill="#000" />
<rect x="1464" y="361" width="5" height="17" fill="#000" />
<rect x="1465" y="362" width="3" height="15" fill="#00ba00" />
<rect x="1473" y="347" width="1" height="34" fill="#000" />
<rect x="1471" y="361" width="5" height="20" fill="#000" />
<rect x="1472" y="362" width="3" height="18" fill="#bc0000" />
<rect x="1480" y="368" width="1" height="22" fill="#000" />
<rect x="1478" y="372" width="5" height="9" fill="#000" />
<rect x="1479" y="373" width="3" height="7" fill="#00ba00" />
<rect x="1487" y="368" width="1" height="83" fill="#000" />
<rect x="1485" y="372" width="5" height="27" fill="#000" />
<rect x="1486" y="373" width="3" height="25" fill="#bc0000" />
<rect x="1494" y="390" width="1" height="39" fill="#000" />
<rect x="1492" y="398" width="5" height="20" fill="#000" />
<rect x="1493" y="399" width="3" height="18" fill="#bc0000" />
<rect x="1501" y="386" width="1" height="43" fill="#000" />
<rect x="1499" y="392" width="5" height="26" fill="#000" />
<rect x="1500" y="393" width="3" height="24" fill="#00ba00" />
<rect x="1508" y="378" width="1" height="44" fill="#000" />
<rect x="1506" y="392" width="5" height="5" fill="#000" />
<rect x="1507" y="393" width="3" height="3" fill="#bc0000" />
<rect x="1515" y="388" width="1" height="55" fill="#000" />
<rect x="1513" y="396" width="5" height="41" fill="#000" />
<rect x="1514" y="397" width="3" height="39" fill="#bc0000" />
<rect x="1522" y="422" width="1" height="20" fill="#000" />
<rect x="1520" y="422" width="5" height="15" fill="#000" />
<rect x="1521" y="423" width="3" height="13" fill="#00ba00" />
<rect x="1529" y="403" width="1" height="46" fill="#000" />
<rect x="1527" y="422" width="5" height="25" fill="#000" />
<rect x="1528" y="423" width="3" height="23" fill="#bc0000" />
<rect x="1536" y="419" width="1" height="35" fill="#000" />
<rect x="1534" y="429" width="5" height="18" fill="#000" />
<rect x="1535" y="430" width="3" height="16" fill="#00ba00" />
<rect x="1543" y="415" width="1" height="104" fill="#000" />
<rect x="1541" y="429" width="5" height="72" fill="#000" />
<rect x="1542" y="430" width="3" height="70" fill="#bc0000" />
<rect x="1550" y="499" width="1" height="2" fill="#000" />
<rect x="1548" y="499" width="5" height="2" fill="#000" />
</g>
<line x1="508" y1="531.5" x2="1581" y2="531.5" stroke="#00ff00" stroke-width="1" shape-rendering="crispEdges"/>
<line x1="565.5" y1="0" x2="1581" y2="387.61635" stroke="#ff0000" stroke-width="1.25" />
<polyline fill="none" stroke="#0000ff" stroke-width="1.25" points="507.5,24 892.5,541 1060.5,190 1361.5,521 1424.5,329.3"/>
<g shape-rendering="crispEdges">
<rect x="1551" y="500" width="30" height="1" fill="#000" />
</g>
<g shape-rendering="crispEdges">
<rect x="1547" y="1" width="10" height="1" fill="#000" />
<rect x="1548" y="2" width="8" height="1" fill="#000" />
<rect x="1549" y="3" width="6" height="1" fill="#000" />
<rect x="1550" y="4" width="4" height="1" fill="#000" />
<rect x="1551" y="5" width="2" height="1" fill="#000" />
</g>
</g>
<g clip-path="url(#cax)">
<g shape-rendering="crispEdges">
<rect x="1582" y="46" width="6" height="1" fill="#000" />
<rect x="1582" y="103" width="6" height="1" fill="#000" />
<rect x="1582" y="160" width="6" height="1" fill="#000" />
<rect x="1582" y="217" width="6" height="1" fill="#000" />
<rect x="1582" y="274" width="6" height="1" fill="#000" />
<rect x="1582" y="331" width="6" height="1" fill="#000" />
<rect x="1582" y="388" width="6" height="1" fill="#000" />
<rect x="1582" y="445" width="6" height="1" fill="#000" />
<rect x="1582" y="502" width="6" height="1" fill="#000" />
<rect x="1582" y="559" width="6" height="1" fill="#000" />
</g>
<text x="1618" y="51.5" text-anchor="middle" fill="#000" font-size="12" >1.5000</text>
<text x="1618" y="108.5" text-anchor="middle" fill="#000" font-size="12" >1.4950</text>
<text x="1618" y="165.5" text-anchor="middle" fill="#000" font-size="12" >1.4900</text>
<text x="1618" y="222.5" text-anchor="middle" fill="#000" font-size="12" >1.4850</text>
<text x="1618" y="279.5" text-anchor="middle" fill="#000" font-size="12" >1.4800</text>
<text x="1618" y="336.5" text-anchor="middle" fill="#000" font-size="12" >1.4750</text>
<text x="1618" y="393.5" text-anchor="middle" fill="#000" font-size="12" >1.4700</text>
<text x="1618" y="450.5" text-anchor="middle" fill="#000" font-size="12" >1.4650</text>
<text x="1618" y="507.5" text-anchor="middle" fill="#000" font-size="12" >1.4600</text>
<text x="1618" y="564.5" text-anchor="middle" fill="#000" font-size="12" >1.4550</text>
</g>
<g shape-rendering="crispEdges">
<rect x="1583" y="283" width="71" height="17" fill="#404040" />
<rect x="1584" y="284" width="69" height="15" fill="#404040" />
</g>
<text x="1618.5" y="296.0" text-anchor="middle" fill="#fff" font-size="12" >1.47851</text>
<g shape-rendering="crispEdges">
<rect x="1583" y="492" width="71" height="17" fill="#404040" />
<rect x="1584" y="493" width="69" height="15" fill="#c0c0c0" />
</g>
<text x="1618.5" y="505.0" text-anchor="middle" fill="#000" font-size="12" >1.46016</text>
<text x="37.6" y="483" text-anchor="start" fill="#000" font-size="11" class="tah" textLength="58.4">Pattern start</text>
<text x="106.5" y="483" text-anchor="start" fill="#000" font-size="11" class="tah" font-weight="bold" textLength="85.5">12:00 2014-05-02</text>
<text x="63.8" y="503" text-anchor="start" fill="#000" font-size="11" class="tah" textLength="32.2">Length</text>
<text x="106.5" y="503" text-anchor="start" fill="#000" font-size="11" class="tah" font-weight="bold" textLength="45">132 bars</text>
<text x="63.8" y="524" text-anchor="start" fill="#000" font-size="11" class="tah" textLength="32.2">Quality</text>
<text x="47.8" y="545" text-anchor="start" fill="#000" font-size="11" class="tah" textLength="48.2">Magnitude</text>
<rect x="106" y="511" width="286" height="15" fill="#a0a0a0" rx="2.5"/>
<g shape-rendering="crispEdges">
<rect x="107" y="512" width="284" height="13" fill="url(#pg)" />
<rect x="108" y="512" width="216" height="13" fill="#00ff00" />
</g>
<text x="249" y="520.5" text-anchor="middle" fill="#000" font-size="11" class="tah">77%</text>
<rect x="106" y="532" width="286" height="15" fill="#a0a0a0" rx="2.5"/>
<g shape-rendering="crispEdges">
<rect x="107" y="533" width="284" height="13" fill="url(#pg)" />
<rect x="108" y="533" width="279" height="13" fill="#00ff00" />
</g>
<text x="249" y="541.5" text-anchor="middle" fill="#000" font-size="11" class="tah">99%</text>
<line x1="0" y1="581.5" x2="1581" y2="581.5" stroke="#000" stroke-width="1" stroke-dasharray="6 4" shape-rendering="crispEdges"/>
<line x1="0" y1="630.5" x2="1581" y2="630.5" stroke="#000" stroke-width="1" stroke-dasharray="6 4" shape-rendering="crispEdges"/>
<text x="20.5" y="582" text-anchor="start" fill="#000" font-size="12" textLength="46.9">RSI: (14)</text>
<rect x="71" y="575" width="13" height="2" fill="#0000ff" shape-rendering="crispEdges"/>
<polyline fill="none" stroke="#0000ff" stroke-width="1" shape-rendering="crispEdges"  points="-3.5,607.6 3.5,606.5 10.5,603.7 17.5,599.5 24.5,589.2 31.5,594.5 38.5,595.8 45.5,597.0 52.5,596.7 59.5,595.5 66.5,596.4 73.5,595.6 80.5,596.2 87.5,597.2 94.5,598.3 101.5,596.3 108.5,593.6 115.5,593.6 122.5,612.8 129.5,606.4 136.5,611.2 143.5,617.5 150.5,620.3 157.5,613.1 164.5,617.9 171.5,617.9 178.5,619.6 185.5,584.1 192.5,581.9 199.5,581.9 206.5,587.1 213.5,588.4 220.5,588.4 227.5,588.7 234.5,583.2 241.5,580.5 248.5,578.3 255.5,580.3 262.5,584.1 269.5,586.8 276.5,585.6 283.5,599.3 290.5,590.2 297.5,590.3 304.5,590.2 311.5,590.2 318.5,600.4 325.5,594.9 332.5,592.9 339.5,585.9 346.5,586.6 353.5,584.0 360.5,580.8 367.5,579.9 374.5,593.0 381.5,608.8 388.5,609.7 395.5,610.1 402.5,615.5 409.5,615.9 416.5,597.2 423.5,597.4 430.5,600.9 437.5,599.2 444.5,601.3 451.5,604.2 458.5,593.6 465.5,598.7 472.5,598.6 479.5,597.9 486.5,600.6 493.5,602.9 500.5,592.4 507.5,593.4 514.5,599.1 521.5,600.0 528.5,600.2 535.5,592.9 542.5,603.6 549.5,596.4 556.5,600.4 563.5,601.2 570.5,607.1 577.5,605.5 584.5,603.9 591.5,611.7 598.5,623.1 605.5,619.1 612.5,616.3 619.5,614.8 626.5,613.2 633.5,612.1 640.5,613.5 647.5,612.9 654.5,608.2 661.5,625.7 668.5,627.3 675.5,620.0 682.5,633.4 689.5,634.6 696.5,632.0 703.5,630.8 710.5,632.1 717.5,639.1 724.5,639.6 731.5,640.6 738.5,640.4 745.5,637.8 752.5,639.4 759.5,639.8 766.5,641.0 773.5,634.1 780.5,634.3 787.5,633.1 794.5,628.8 801.5,613.3 808.5,631.2 815.5,633.1 822.5,629.6 829.5,630.4 836.5,635.7 843.5,636.2 850.5,635.5 857.5,624.9 864.5,625.8 871.5,619.4 878.5,618.4 885.5,629.3 892.5,629.3 899.5,606.0 906.5,609.4 913.5,607.8 920.5,608.7 927.5,602.7 934.5,612.7 941.5,612.7 948.5,613.9 955.5,614.0 962.5,613.1 969.5,611.9 976.5,605.3 983.5,608.0 990.5,599.6 997.5,596.1 1004.5,597.7 1011.5,587.7 1018.5,583.8 1025.5,579.7 1032.5,579.5 1039.5,578.8 1046.5,573.9 1053.5,574.8 1060.5,572.6 1067.5,585.1 1074.5,585.2 1081.5,588.4 1088.5,587.5 1095.5,605.6 1102.5,600.7 1109.5,595.4 1116.5,595.4 1123.5,595.6 1130.5,596.6 1137.5,605.7 1144.5,605.2 1151.5,601.1 1158.5,608.7 1165.5,606.3 1172.5,604.9 1179.5,610.0 1186.5,611.5 1193.5,606.4 1200.5,605.9 1207.5,607.6 1214.5,605.7 1221.5,611.1 1228.5,609.9 1235.5,615.9 1242.5,614.3 1249.5,613.0 1256.5,617.8 1263.5,620.1 1270.5,615.2 1277.5,614.5 1284.5,602.2 1291.5,610.4 1298.5,614.8 1305.5,608.7 1312.5,625.5 1319.5,630.9 1326.5,624.4 1333.5,625.1 1340.5,629.7 1347.5,631.4 1354.5,632.8 1361.5,626.9 1368.5,621.8 1375.5,610.5 1382.5,615.5 1389.5,615.4 1396.5,611.6 1403.5,600.2 1410.5,601.1 1417.5,598.1 1424.5,599.1 1431.5,600.2 1438.5,596.3 1445.5,601.5 1452.5,613.3 1459.5,601.2 1466.5,598.6 1473.5,602.9 1480.5,601.3 1487.5,607.1 1494.5,610.9 1501.5,605.4 1508.5,606.1 1515.5,614.4 1522.5,611.1 1529.5,615.7 1536.5,611.4 1543.5,623.1 1550.5,623.1"/>
<text x="1577" y="579" text-anchor="end" fill="#000" font-size="12" >70</text>
<text x="1577" y="628" text-anchor="end" fill="#000" font-size="12" >30</text>
<g shape-rendering="crispEdges">
<rect x="1582" y="589" width="5" height="1" fill="#000" />
<rect x="1551" y="623" width="30" height="1" fill="#000" />
</g>
<text x="1618.5" y="594" text-anchor="middle" fill="#000" font-size="12" >63.39</text>
<g shape-rendering="crispEdges">
<rect x="1583" y="615" width="71" height="17" fill="#000" />
<rect x="1584" y="616" width="69" height="15" fill="#0000ff" />
</g>
<text x="1618.5" y="628.0" text-anchor="middle" fill="#fff" font-size="12" >35.78086</text>
<line x1="0" y1="671.5" x2="1581" y2="671.5" stroke="#000" stroke-width="1" stroke-dasharray="6 4" shape-rendering="crispEdges"/>
<line x1="0" y1="718.5" x2="1581" y2="718.5" stroke="#000" stroke-width="1" stroke-dasharray="6 4" shape-rendering="crispEdges"/>
<text x="20.5" y="669.5" font-size="12" textLength="263.8">STOCH: (5, 3, SMA, 3, SMA) (<tspan fill="#0000ff">Slow %K,</tspan> <tspan fill="#ff0000">Slow %D</tspan>)</text>
<polyline fill="none" stroke="#0000ff" stroke-width="1" shape-rendering="crispEdges"  points="-3.5,713.0 3.5,716.8 10.5,712.1 17.5,696.2 24.5,680.1 31.5,671.5 38.5,671.3 45.5,681.5 52.5,688.5 59.5,697.0 66.5,698.5 73.5,693.7 80.5,686.4 87.5,682.9 94.5,685.9 101.5,686.2 108.5,681.2 115.5,675.0 122.5,690.7 129.5,702.9 136.5,721.2 143.5,718.5 150.5,722.5 157.5,712.2 164.5,709.1 171.5,704.8 178.5,709.8 185.5,692.4 192.5,677.2 199.5,662.6 206.5,666.9 213.5,672.1 220.5,690.9 227.5,704.0 234.5,706.1 241.5,685.3 248.5,666.8 255.5,662.1 262.5,667.7 269.5,681.8 276.5,689.8 283.5,708.6 290.5,701.1 297.5,696.6 304.5,676.0 311.5,673.6 318.5,684.2 325.5,684.7 332.5,686.3 339.5,671.8 346.5,671.3 353.5,667.6 360.5,670.3 367.5,672.3 374.5,692.6 381.5,709.2 388.5,725.3 395.5,726.0 402.5,727.9 409.5,726.2 416.5,703.3 423.5,684.5 430.5,670.7 437.5,676.6 444.5,678.8 451.5,691.3 458.5,685.2 465.5,688.3 472.5,678.6 479.5,688.1 486.5,690.4 493.5,702.9 500.5,696.3 507.5,695.2 514.5,689.5 521.5,704.5 528.5,711.6 535.5,704.3 542.5,704.3 549.5,691.3 556.5,692.8 563.5,687.2 570.5,704.7 577.5,711.2 584.5,708.9 591.5,701.2 598.5,707.4 605.5,716.3 612.5,717.7 619.5,709.1 626.5,698.9 633.5,687.9 640.5,688.0 647.5,695.2 654.5,698.9 661.5,707.4 668.5,712.9 675.5,719.0 682.5,718.9 689.5,721.5 696.5,728.2 703.5,726.3 710.5,725.6 717.5,724.5 724.5,723.7 731.5,723.6 738.5,725.5 745.5,724.8 752.5,723.1 759.5,718.6 766.5,716.6 773.5,704.6 780.5,696.5 787.5,687.3 794.5,683.2 801.5,674.2 808.5,689.0 815.5,706.3 822.5,725.4 829.5,723.4 836.5,725.0 843.5,724.2 850.5,720.3 857.5,703.0 864.5,689.4 871.5,671.1 878.5,666.2 885.5,683.6 892.5,704.0 899.5,704.9 906.5,688.4 913.5,673.7 920.5,676.8 927.5,672.5 934.5,687.0 941.5,700.3 948.5,719.2 955.5,721.0 962.5,718.7 969.5,706.2 976.5,690.7 983.5,683.3 990.5,675.2 997.5,669.9 1004.5,664.0 1011.5,663.8 1018.5,665.7 1025.5,661.5 1032.5,663.1 1039.5,661.7 1046.5,661.1 1053.5,664.8 1060.5,666.6 1067.5,684.0 1074.5,696.7 1081.5,714.7 1088.5,715.2 1095.5,721.7 1102.5,716.4 1109.5,708.2 1116.5,691.2 1123.5,683.8 1130.5,679.5 1137.5,691.6 1144.5,702.7 1151.5,709.0 1158.5,709.1 1165.5,706.5 1172.5,706.5 1179.5,706.0 1186.5,711.4 1193.5,706.9 1200.5,694.9 1207.5,684.1 1214.5,685.5 1221.5,697.1 1228.5,703.0 1235.5,713.1 1242.5,710.0 1249.5,707.2 1256.5,709.7 1263.5,716.4 1270.5,717.5 1277.5,709.4 1284.5,687.5 1291.5,682.9 1298.5,688.1 1305.5,697.4 1312.5,707.6 1319.5,713.8 1326.5,720.8 1333.5,717.4 1340.5,716.7 1347.5,719.8 1354.5,724.0 1361.5,716.0 1368.5,702.0 1375.5,681.2 1382.5,674.1 1389.5,675.0 1396.5,678.6 1403.5,672.8 1410.5,673.4 1417.5,673.3 1424.5,679.4 1431.5,680.4 1438.5,686.6 1445.5,696.2 1452.5,709.3 1459.5,705.1 1466.5,692.2 1473.5,679.0 1480.5,679.4 1487.5,687.6 1494.5,696.1 1501.5,699.5 1508.5,694.4 1515.5,697.5 1522.5,704.0 1529.5,720.6 1536.5,716.7 1543.5,721.0 1550.5,717.5"/>
<polyline fill="none" stroke="#ff0000" stroke-width="1" shape-rendering="crispEdges"  points="-3.5,695.2 3.5,707.3 10.5,713.9 17.5,708.3 24.5,696.1 31.5,682.6 38.5,674.3 45.5,674.8 52.5,680.4 59.5,689.0 66.5,694.7 73.5,696.4 80.5,692.9 87.5,687.7 94.5,685.1 101.5,685.0 108.5,684.4 115.5,680.8 122.5,682.3 129.5,689.5 136.5,704.9 143.5,714.2 150.5,720.7 157.5,717.7 164.5,714.6 171.5,708.7 178.5,707.9 185.5,702.3 192.5,693.1 199.5,677.4 206.5,668.9 213.5,667.2 220.5,676.7 227.5,689.0 234.5,700.3 241.5,698.5 248.5,686.1 255.5,671.4 262.5,665.6 269.5,670.5 276.5,679.7 283.5,693.4 290.5,699.8 297.5,702.1 304.5,691.2 311.5,682.1 318.5,677.9 325.5,680.9 332.5,685.1 339.5,680.9 346.5,676.4 353.5,670.2 360.5,669.7 367.5,670.1 374.5,678.4 381.5,691.4 388.5,709.0 395.5,720.2 402.5,726.4 409.5,726.7 416.5,719.1 423.5,704.7 430.5,686.2 437.5,677.3 444.5,675.4 451.5,682.2 458.5,685.1 465.5,688.3 472.5,684.0 479.5,685.0 486.5,685.7 493.5,693.8 500.5,696.5 507.5,698.1 514.5,693.7 521.5,696.4 528.5,701.9 535.5,706.8 542.5,706.7 549.5,699.9 556.5,696.1 563.5,690.4 570.5,694.9 577.5,701.0 584.5,708.3 591.5,707.1 598.5,705.8 605.5,708.3 612.5,713.8 619.5,714.4 626.5,708.6 633.5,698.7 640.5,691.6 647.5,690.4 654.5,694.0 661.5,700.5 668.5,706.4 675.5,713.1 682.5,716.9 689.5,719.8 696.5,722.9 703.5,725.3 710.5,726.7 717.5,725.5 724.5,724.6 731.5,723.9 738.5,724.3 745.5,724.6 752.5,724.5 759.5,722.2 766.5,719.5 773.5,713.3 780.5,705.9 787.5,696.1 794.5,689.0 801.5,681.6 808.5,682.2 815.5,689.9 822.5,706.9 829.5,718.4 836.5,724.6 843.5,724.2 850.5,723.2 857.5,715.8 864.5,704.2 871.5,687.8 878.5,675.6 885.5,673.7 892.5,684.6 899.5,697.5 906.5,699.1 913.5,689.0 920.5,679.6 927.5,674.4 934.5,678.8 941.5,686.6 948.5,702.2 955.5,713.5 962.5,719.6 969.5,715.3 976.5,705.2 983.5,693.4 990.5,683.1 997.5,676.2 1004.5,669.7 1011.5,665.9 1018.5,664.5 1025.5,663.7 1032.5,663.4 1039.5,662.1 1046.5,661.9 1053.5,662.5 1060.5,664.2 1067.5,671.8 1074.5,682.4 1081.5,698.5 1088.5,708.9 1095.5,717.2 1102.5,717.8 1109.5,715.5 1116.5,705.3 1123.5,694.4 1130.5,684.8 1137.5,685.0 1144.5,691.3 1151.5,701.1 1158.5,706.9 1165.5,708.2 1172.5,707.4 1179.5,706.3 1186.5,708.0 1193.5,708.1 1200.5,704.4 1207.5,695.3 1214.5,688.2 1221.5,688.9 1228.5,695.2 1235.5,704.4 1242.5,708.7 1249.5,710.1 1256.5,709.0 1263.5,711.1 1270.5,714.5 1277.5,714.4 1284.5,704.8 1291.5,693.3 1298.5,686.2 1305.5,689.5 1312.5,697.7 1319.5,706.3 1326.5,714.1 1333.5,717.3 1340.5,718.3 1347.5,718.0 1354.5,720.2 1361.5,719.9 1368.5,714.0 1375.5,699.7 1382.5,685.8 1389.5,676.8 1396.5,675.9 1403.5,675.5 1410.5,674.9 1417.5,673.2 1424.5,675.4 1431.5,677.7 1438.5,682.1 1445.5,687.8 1452.5,697.4 1459.5,703.5 1466.5,702.2 1473.5,692.1 1480.5,683.6 1487.5,682.0 1494.5,687.7 1501.5,694.4 1508.5,696.7 1515.5,697.1 1522.5,698.6 1529.5,707.4 1536.5,713.8 1543.5,719.4 1550.5,718.4"/>
<text x="1577" y="669" text-anchor="end" fill="#000" font-size="12" >80</text>
<text x="1577" y="716" text-anchor="end" fill="#000" font-size="12" >20</text>
<g shape-rendering="crispEdges">
<rect x="1582" y="677" width="5" height="1" fill="#000" />
<rect x="1582" y="707" width="5" height="1" fill="#000" />
<rect x="1551" y="718" width="30" height="2" fill="#000" />
</g>
<text x="1618.5" y="682" text-anchor="middle" fill="#000" font-size="12" >72.78</text>
<text x="1618.5" y="713" text-anchor="middle" fill="#000" font-size="12" >34.62</text>
<g shape-rendering="crispEdges">
<rect x="1583" y="710" width="71" height="18" fill="#000" />
<rect x="1584" y="712" width="69" height="15" fill="#ff0000" />
</g>
<text x="1618.5" y="724.2" text-anchor="middle" fill="#fff" font-size="12" >19.45768</text>
<text x="19.8" y="758" text-anchor="start" fill="#000" font-size="12" textLength="48.2">VOLUME</text>
<rect x="72" y="751" width="13" height="2" fill="#0000ff" shape-rendering="crispEdges"/>
<g shape-rendering="crispEdges" fill="#0000ff">
<rect x="1" y="806" width="5" height="11"/>
<rect x="8" y="794" width="5" height="23"/>
<rect x="15" y="794" width="5" height="23"/>
<rect x="22" y="788" width="5" height="29"/>
<rect x="29" y="783" width="5" height="34"/>
<rect x="36" y="797" width="5" height="20"/>
<rect x="43" y="809" width="5" height="8"/>
<rect x="50" y="805" width="5" height="12"/>
<rect x="57" y="805" width="5" height="12"/>
<rect x="64" y="808" width="5" height="9"/>
<rect x="71" y="809" width="5" height="8"/>
<rect x="78" y="812" width="5" height="5"/>
<rect x="85" y="816" width="5" height="1"/>
<rect x="92" y="811" width="5" height="6"/>
<rect x="99" y="804" width="5" height="13"/>
<rect x="106" y="808" width="5" height="9"/>
<rect x="113" y="806" width="5" height="11"/>
<rect x="120" y="796" width="5" height="21"/>
<rect x="127" y="802" width="5" height="15"/>
<rect x="134" y="805" width="5" height="12"/>
<rect x="141" y="795" width="5" height="22"/>
<rect x="148" y="791" width="5" height="26"/>
<rect x="155" y="789" width="5" height="28"/>
<rect x="162" y="779" width="5" height="38"/>
<rect x="169" y="798" width="5" height="19"/>
<rect x="176" y="808" width="5" height="9"/>
<rect x="183" y="787" width="5" height="30"/>
<rect x="190" y="785" width="5" height="32"/>
<rect x="197" y="781" width="5" height="36"/>
<rect x="204" y="778" width="5" height="39"/>
<rect x="211" y="792" width="5" height="25"/>
<rect x="218" y="803" width="5" height="14"/>
<rect x="225" y="796" width="5" height="21"/>
<rect x="232" y="792" width="5" height="25"/>
<rect x="239" y="780" width="5" height="37"/>
<rect x="246" y="771" width="5" height="46"/>
<rect x="253" y="798" width="5" height="19"/>
<rect x="260" y="807" width="5" height="10"/>
<rect x="267" y="799" width="5" height="18"/>
<rect x="274" y="799" width="5" height="18"/>
<rect x="281" y="792" width="5" height="25"/>
<rect x="288" y="782" width="5" height="35"/>
<rect x="295" y="799" width="5" height="18"/>
<rect x="302" y="814" width="5" height="3"/>
<rect x="309" y="812" width="5" height="5"/>
<rect x="316" y="799" width="5" height="18"/>
<rect x="323" y="788" width="5" height="29"/>
<rect x="330" y="785" width="5" height="32"/>
<rect x="337" y="776" width="5" height="41"/>
<rect x="344" y="791" width="5" height="26"/>
<rect x="351" y="807" width="5" height="10"/>
<rect x="358" y="795" width="5" height="22"/>
<rect x="365" y="793" width="5" height="24"/>
<rect x="372" y="789" width="5" height="28"/>
<rect x="379" y="768" width="5" height="49"/>
<rect x="386" y="796" width="5" height="21"/>
<rect x="393" y="803" width="5" height="14"/>
<rect x="400" y="795" width="5" height="22"/>
<rect x="407" y="788" width="5" height="29"/>
<rect x="414" y="768" width="5" height="49"/>
<rect x="421" y="760" width="5" height="57"/>
<rect x="428" y="781" width="5" height="36"/>
<rect x="435" y="803" width="5" height="14"/>
<rect x="442" y="799" width="5" height="18"/>
<rect x="449" y="791" width="5" height="26"/>
<rect x="456" y="788" width="5" height="29"/>
<rect x="463" y="782" width="5" height="35"/>
<rect x="470" y="805" width="5" height="12"/>
<rect x="477" y="805" width="5" height="12"/>
<rect x="484" y="802" width="5" height="15"/>
<rect x="491" y="799" width="5" height="18"/>
<rect x="498" y="790" width="5" height="27"/>
<rect x="505" y="751" width="5" height="66"/>
<rect x="512" y="797" width="5" height="20"/>
<rect x="519" y="814" width="5" height="3"/>
<rect x="526" y="811" width="5" height="6"/>
<rect x="533" y="796" width="5" height="21"/>
<rect x="540" y="799" width="5" height="18"/>
<rect x="547" y="794" width="5" height="23"/>
<rect x="554" y="786" width="5" height="31"/>
<rect x="561" y="798" width="5" height="19"/>
<rect x="568" y="808" width="5" height="9"/>
<rect x="575" y="801" width="5" height="16"/>
<rect x="582" y="781" width="5" height="36"/>
<rect x="589" y="772" width="5" height="45"/>
<rect x="596" y="775" width="5" height="42"/>
<rect x="603" y="799" width="5" height="18"/>
<rect x="610" y="803" width="5" height="14"/>
<rect x="617" y="793" width="5" height="24"/>
<rect x="624" y="793" width="5" height="24"/>
<rect x="631" y="787" width="5" height="30"/>
<rect x="638" y="764" width="5" height="53"/>
<rect x="645" y="789" width="5" height="28"/>
<rect x="652" y="803" width="5" height="14"/>
<rect x="659" y="782" width="5" height="35"/>
<rect x="666" y="789" width="5" height="28"/>
<rect x="673" y="780" width="5" height="37"/>
<rect x="680" y="749" width="5" height="68"/>
<rect x="687" y="791" width="5" height="26"/>
<rect x="694" y="805" width="5" height="12"/>
<rect x="701" y="794" width="5" height="23"/>
<rect x="708" y="795" width="5" height="22"/>
<rect x="715" y="782" width="5" height="35"/>
<rect x="722" y="770" width="5" height="47"/>
<rect x="729" y="795" width="5" height="22"/>
<rect x="736" y="813" width="5" height="4"/>
<rect x="743" y="811" width="5" height="6"/>
<rect x="750" y="801" width="5" height="16"/>
<rect x="757" y="793" width="5" height="24"/>
<rect x="764" y="792" width="5" height="25"/>
<rect x="771" y="785" width="5" height="32"/>
<rect x="778" y="801" width="5" height="16"/>
<rect x="785" y="807" width="5" height="10"/>
<rect x="792" y="802" width="5" height="15"/>
<rect x="799" y="792" width="5" height="25"/>
<rect x="806" y="773" width="5" height="44"/>
<rect x="813" y="772" width="5" height="45"/>
<rect x="820" y="789" width="5" height="28"/>
<rect x="827" y="807" width="5" height="10"/>
<rect x="834" y="798" width="5" height="19"/>
<rect x="841" y="789" width="5" height="28"/>
<rect x="848" y="781" width="5" height="36"/>
<rect x="855" y="778" width="5" height="39"/>
<rect x="862" y="795" width="5" height="22"/>
<rect x="869" y="807" width="5" height="10"/>
<rect x="876" y="798" width="5" height="19"/>
<rect x="883" y="787" width="5" height="30"/>
<rect x="890" y="780" width="5" height="37"/>
<rect x="897" y="757" width="5" height="60"/>
<rect x="904" y="794" width="5" height="23"/>
<rect x="911" y="808" width="5" height="9"/>
<rect x="918" y="802" width="5" height="15"/>
<rect x="925" y="798" width="5" height="19"/>
<rect x="932" y="787" width="5" height="30"/>
<rect x="939" y="779" width="5" height="38"/>
<rect x="946" y="801" width="5" height="16"/>
<rect x="953" y="814" width="5" height="3"/>
<rect x="960" y="811" width="5" height="6"/>
<rect x="967" y="797" width="5" height="20"/>
<rect x="974" y="789" width="5" height="28"/>
<rect x="981" y="787" width="5" height="30"/>
<rect x="988" y="782" width="5" height="35"/>
<rect x="995" y="799" width="5" height="18"/>
<rect x="1002" y="805" width="5" height="12"/>
<rect x="1009" y="790" width="5" height="27"/>
<rect x="1016" y="786" width="5" height="31"/>
<rect x="1023" y="782" width="5" height="35"/>
<rect x="1030" y="781" width="5" height="36"/>
<rect x="1037" y="791" width="5" height="26"/>
<rect x="1044" y="805" width="5" height="12"/>
<rect x="1051" y="792" width="5" height="25"/>
<rect x="1058" y="787" width="5" height="30"/>
<rect x="1065" y="783" width="5" height="34"/>
<rect x="1072" y="780" width="5" height="37"/>
<rect x="1079" y="785" width="5" height="32"/>
<rect x="1086" y="804" width="5" height="13"/>
<rect x="1093" y="790" width="5" height="27"/>
<rect x="1100" y="786" width="5" height="31"/>
<rect x="1107" y="787" width="5" height="30"/>
<rect x="1114" y="778" width="5" height="39"/>
<rect x="1121" y="801" width="5" height="16"/>
<rect x="1128" y="805" width="5" height="12"/>
<rect x="1135" y="791" width="5" height="26"/>
<rect x="1142" y="793" width="5" height="24"/>
<rect x="1149" y="783" width="5" height="34"/>
<rect x="1156" y="783" width="5" height="34"/>
<rect x="1163" y="801" width="5" height="16"/>
<rect x="1170" y="813" width="5" height="4"/>
<rect x="1177" y="809" width="5" height="8"/>
<rect x="1184" y="802" width="5" height="15"/>
<rect x="1191" y="799" width="5" height="18"/>
<rect x="1198" y="798" width="5" height="19"/>
<rect x="1205" y="798" width="5" height="19"/>
<rect x="1212" y="809" width="5" height="8"/>
<rect x="1219" y="804" width="5" height="13"/>
<rect x="1226" y="795" width="5" height="22"/>
<rect x="1233" y="781" width="5" height="36"/>
<rect x="1240" y="777" width="5" height="40"/>
<rect x="1247" y="778" width="5" height="39"/>
<rect x="1254" y="797" width="5" height="20"/>
<rect x="1261" y="807" width="5" height="10"/>
<rect x="1268" y="797" width="5" height="20"/>
<rect x="1275" y="787" width="5" height="30"/>
<rect x="1282" y="786" width="5" height="31"/>
<rect x="1289" y="772" width="5" height="45"/>
<rect x="1296" y="799" width="5" height="18"/>
<rect x="1303" y="805" width="5" height="12"/>
<rect x="1310" y="789" width="5" height="28"/>
<rect x="1317" y="790" width="5" height="27"/>
<rect x="1324" y="786" width="5" height="31"/>
<rect x="1331" y="775" width="5" height="42"/>
<rect x="1338" y="801" width="5" height="16"/>
<rect x="1345" y="803" width="5" height="14"/>
<rect x="1352" y="794" width="5" height="23"/>
<rect x="1359" y="789" width="5" height="28"/>
<rect x="1366" y="791" width="5" height="26"/>
<rect x="1373" y="774" width="5" height="43"/>
<rect x="1380" y="798" width="5" height="19"/>
<rect x="1387" y="813" width="5" height="4"/>
<rect x="1394" y="809" width="5" height="8"/>
<rect x="1401" y="789" width="5" height="28"/>
<rect x="1408" y="787" width="5" height="30"/>
<rect x="1415" y="789" width="5" height="28"/>
<rect x="1422" y="775" width="5" height="42"/>
<rect x="1429" y="796" width="5" height="21"/>
<rect x="1436" y="804" width="5" height="13"/>
<rect x="1443" y="789" width="5" height="28"/>
<rect x="1450" y="785" width="5" height="32"/>
<rect x="1457" y="777" width="5" height="40"/>
<rect x="1464" y="779" width="5" height="38"/>
<rect x="1471" y="795" width="5" height="22"/>
<rect x="1478" y="802" width="5" height="15"/>
<rect x="1485" y="789" width="5" height="28"/>
<rect x="1492" y="790" width="5" height="27"/>
<rect x="1499" y="783" width="5" height="34"/>
<rect x="1506" y="776" width="5" height="41"/>
<rect x="1513" y="794" width="5" height="23"/>
<rect x="1520" y="807" width="5" height="10"/>
<rect x="1527" y="796" width="5" height="21"/>
<rect x="1534" y="792" width="5" height="25"/>
<rect x="1541" y="787" width="5" height="30"/>
</g>
<g shape-rendering="crispEdges">
<rect x="1582" y="765" width="5" height="1" fill="#000" />
<rect x="1582" y="795" width="5" height="1" fill="#000" />
<rect x="1554" y="817" width="27" height="1" fill="#000" />
</g>
<text x="1618.5" y="770" text-anchor="middle" fill="#000" font-size="12" >30958</text>
<text x="1618.5" y="800" text-anchor="middle" fill="#000" font-size="12" >12941</text>
<g shape-rendering="crispEdges">
<rect x="1583" y="809" width="71" height="17" fill="#000" />
<rect x="1584" y="810" width="69" height="15" fill="#0000ff" />
</g>
<text x="1618.5" y="822.0" text-anchor="middle" fill="#fff" font-size="12" >28.12</text>
<text x="20.3" y="846" font-size="12" textLength="281.7">MACD: (12, 26, 9) (<tspan fill="#0000ff">MACD,</tspan> <tspan fill="#00ee00">MACD Signal,</tspan> <tspan fill="#ff0000">MACD Hist</tspan>)</text>
<g shape-rendering="crispEdges" fill="#ff0000">
<rect x="1" y="865" width="5" height="1"/>
<rect x="8" y="865" width="5" height="1"/>
<rect x="15" y="864" width="5" height="2"/>
<rect x="22" y="861" width="5" height="5"/>
<rect x="29" y="861" width="5" height="5"/>
<rect x="36" y="861" width="5" height="5"/>
<rect x="43" y="861" width="5" height="5"/>
<rect x="50" y="862" width="5" height="4"/>
<rect x="57" y="862" width="5" height="4"/>
<rect x="64" y="863" width="5" height="3"/>
<rect x="71" y="863" width="5" height="3"/>
<rect x="78" y="864" width="5" height="2"/>
<rect x="85" y="864" width="5" height="2"/>
<rect x="92" y="865" width="5" height="1"/>
<rect x="99" y="865" width="5" height="1"/>
<rect x="106" y="865" width="5" height="1"/>
<rect x="113" y="865" width="5" height="1"/>
<rect x="120" y="866" width="5" height="1"/>
<rect x="127" y="866" width="5" height="2"/>
<rect x="134" y="866" width="5" height="3"/>
<rect x="141" y="866" width="5" height="4"/>
<rect x="148" y="866" width="5" height="6"/>
<rect x="155" y="866" width="5" height="5"/>
<rect x="162" y="866" width="5" height="5"/>
<rect x="169" y="866" width="5" height="5"/>
<rect x="176" y="866" width="5" height="5"/>
<rect x="183" y="865" width="5" height="1"/>
<rect x="190" y="860" width="5" height="6"/>
<rect x="197" y="858" width="5" height="8"/>
<rect x="204" y="857" width="5" height="9"/>
<rect x="211" y="858" width="5" height="8"/>
<rect x="218" y="858" width="5" height="8"/>
<rect x="225" y="859" width="5" height="7"/>
<rect x="232" y="859" width="5" height="7"/>
<rect x="239" y="859" width="5" height="7"/>
<rect x="246" y="858" width="5" height="8"/>
<rect x="253" y="859" width="5" height="7"/>
<rect x="260" y="860" width="5" height="6"/>
<rect x="267" y="862" width="5" height="4"/>
<rect x="274" y="863" width="5" height="3"/>
<rect x="309" y="866" width="5" height="1"/>
<rect x="316" y="866" width="5" height="2"/>
<rect x="323" y="866" width="5" height="3"/>
<rect x="330" y="866" width="5" height="2"/>
<rect x="337" y="866" width="5" height="1"/>
<rect x="351" y="865" width="5" height="1"/>
<rect x="358" y="864" width="5" height="2"/>
<rect x="365" y="864" width="5" height="2"/>
<rect x="372" y="865" width="5" height="1"/>
<rect x="379" y="866" width="5" height="2"/>
<rect x="386" y="866" width="5" height="5"/>
<rect x="393" y="866" width="5" height="6"/>
<rect x="400" y="866" width="5" height="8"/>
<rect x="407" y="866" width="5" height="9"/>
<rect x="414" y="866" width="5" height="6"/>
<rect x="421" y="866" width="5" height="4"/>
<rect x="428" y="866" width="5" height="3"/>
<rect x="435" y="866" width="5" height="2"/>
<rect x="442" y="866" width="5" height="2"/>
<rect x="449" y="866" width="5" height="2"/>
<rect x="491" y="866" width="5" height="1"/>
<rect x="498" y="865" width="5" height="1"/>
<rect x="505" y="865" width="5" height="1"/>
<rect x="512" y="865" width="5" height="1"/>
<rect x="533" y="865" width="5" height="1"/>
<rect x="561" y="866" width="5" height="1"/>
<rect x="568" y="866" width="5" height="2"/>
<rect x="575" y="866" width="5" height="2"/>
<rect x="582" y="866" width="5" height="2"/>
<rect x="589" y="866" width="5" height="3"/>
<rect x="596" y="866" width="5" height="6"/>
<rect x="603" y="866" width="5" height="7"/>
<rect x="610" y="866" width="5" height="7"/>
<rect x="617" y="866" width="5" height="6"/>
<rect x="624" y="866" width="5" height="5"/>
<rect x="631" y="866" width="5" height="4"/>
<rect x="638" y="866" width="5" height="3"/>
<rect x="645" y="866" width="5" height="3"/>
<rect x="652" y="866" width="5" height="2"/>
<rect x="659" y="866" width="5" height="4"/>
<rect x="666" y="866" width="5" height="5"/>
<rect x="673" y="866" width="5" height="5"/>
<rect x="680" y="866" width="5" height="8"/>
<rect x="687" y="866" width="5" height="10"/>
<rect x="694" y="866" width="5" height="10"/>
<rect x="701" y="866" width="5" height="9"/>
<rect x="708" y="866" width="5" height="8"/>
<rect x="715" y="866" width="5" height="10"/>
<rect x="722" y="866" width="5" height="10"/>
<rect x="729" y="866" width="5" height="10"/>
<rect x="736" y="866" width="5" height="9"/>
<rect x="743" y="866" width="5" height="7"/>
<rect x="750" y="866" width="5" height="6"/>
<rect x="757" y="866" width="5" height="5"/>
<rect x="764" y="866" width="5" height="4"/>
<rect x="771" y="866" width="5" height="2"/>
<rect x="778" y="866" width="5" height="1"/>
<rect x="785" y="865" width="5" height="1"/>
<rect x="792" y="864" width="5" height="2"/>
<rect x="799" y="861" width="5" height="5"/>
<rect x="806" y="863" width="5" height="3"/>
<rect x="813" y="865" width="5" height="1"/>
<rect x="820" y="865" width="5" height="1"/>
<rect x="834" y="866" width="5" height="1"/>
<rect x="841" y="866" width="5" height="2"/>
<rect x="848" y="866" width="5" height="2"/>
<rect x="862" y="865" width="5" height="1"/>
<rect x="869" y="863" width="5" height="3"/>
<rect x="876" y="862" width="5" height="4"/>
<rect x="883" y="864" width="5" height="2"/>
<rect x="890" y="864" width="5" height="2"/>
<rect x="897" y="861" width="5" height="5"/>
<rect x="904" y="860" width="5" height="6"/>
<rect x="911" y="859" width="5" height="7"/>
<rect x="918" y="858" width="5" height="8"/>
<rect x="925" y="857" width="5" height="9"/>
<rect x="932" y="859" width="5" height="7"/>
<rect x="939" y="860" width="5" height="6"/>
<rect x="946" y="861" width="5" height="5"/>
<rect x="953" y="862" width="5" height="4"/>
<rect x="960" y="862" width="5" height="4"/>
<rect x="967" y="862" width="5" height="4"/>
<rect x="974" y="862" width="5" height="4"/>
<rect x="981" y="862" width="5" height="4"/>
<rect x="988" y="860" width="5" height="6"/>
<rect x="995" y="859" width="5" height="7"/>
<rect x="1002" y="859" width="5" height="7"/>
<rect x="1009" y="857" width="5" height="9"/>
<rect x="1016" y="855" width="5" height="11"/>
<rect x="1023" y="853" width="5" height="13"/>
<rect x="1030" y="853" width="5" height="13"/>
<rect x="1037" y="853" width="5" height="13"/>
<rect x="1044" y="852" width="5" height="14"/>
<rect x="1051" y="853" width="5" height="13"/>
<rect x="1058" y="853" width="5" height="13"/>
<rect x="1065" y="856" width="5" height="10"/>
<rect x="1072" y="858" width="5" height="8"/>
<rect x="1079" y="860" width="5" height="6"/>
<rect x="1086" y="862" width="5" height="4"/>
<rect x="1093" y="866" width="5" height="1"/>
<rect x="1100" y="866" width="5" height="2"/>
<rect x="1107" y="866" width="5" height="3"/>
<rect x="1114" y="866" width="5" height="3"/>
<rect x="1121" y="866" width="5" height="3"/>
<rect x="1128" y="866" width="5" height="3"/>
<rect x="1135" y="866" width="5" height="5"/>
<rect x="1142" y="866" width="5" height="6"/>
<rect x="1149" y="866" width="5" height="5"/>
<rect x="1156" y="866" width="5" height="6"/>
<rect x="1163" y="866" width="5" height="6"/>
<rect x="1170" y="866" width="5" height="6"/>
<rect x="1177" y="866" width="5" height="6"/>
<rect x="1184" y="866" width="5" height="6"/>
<rect x="1191" y="866" width="5" height="5"/>
<rect x="1198" y="866" width="5" height="5"/>
<rect x="1205" y="866" width="5" height="4"/>
<rect x="1212" y="866" width="5" height="4"/>
<rect x="1219" y="866" width="5" height="4"/>
<rect x="1226" y="866" width="5" height="3"/>
<rect x="1233" y="866" width="5" height="4"/>
<rect x="1240" y="866" width="5" height="4"/>
<rect x="1247" y="866" width="5" height="4"/>
<rect x="1254" y="866" width="5" height="4"/>
<rect x="1261" y="866" width="5" height="4"/>
<rect x="1268" y="866" width="5" height="3"/>
<rect x="1275" y="866" width="5" height="3"/>
<rect x="1282" y="866" width="5" height="1"/>
<rect x="1289" y="866" width="5" height="1"/>
<rect x="1296" y="866" width="5" height="1"/>
<rect x="1303" y="866" width="5" height="1"/>
<rect x="1310" y="866" width="5" height="3"/>
<rect x="1317" y="866" width="5" height="6"/>
<rect x="1324" y="866" width="5" height="6"/>
<rect x="1331" y="866" width="5" height="6"/>
<rect x="1338" y="866" width="5" height="7"/>
<rect x="1345" y="866" width="5" height="8"/>
<rect x="1352" y="866" width="5" height="8"/>
<rect x="1359" y="866" width="5" height="7"/>
<rect x="1366" y="866" width="5" height="5"/>
<rect x="1373" y="866" width="5" height="2"/>
<rect x="1380" y="866" width="5" height="1"/>
<rect x="1387" y="865" width="5" height="1"/>
<rect x="1394" y="864" width="5" height="2"/>
<rect x="1401" y="862" width="5" height="4"/>
<rect x="1408" y="860" width="5" height="6"/>
<rect x="1415" y="859" width="5" height="7"/>
<rect x="1422" y="858" width="5" height="8"/>
<rect x="1429" y="858" width="5" height="8"/>
<rect x="1436" y="858" width="5" height="8"/>
<rect x="1443" y="859" width="5" height="7"/>
<rect x="1450" y="862" width="5" height="4"/>
<rect x="1457" y="862" width="5" height="4"/>
<rect x="1464" y="861" width="5" height="5"/>
<rect x="1471" y="862" width="5" height="4"/>
<rect x="1478" y="862" width="5" height="4"/>
<rect x="1485" y="864" width="5" height="2"/>
<rect x="1492" y="865" width="5" height="1"/>
<rect x="1499" y="865" width="5" height="1"/>
<rect x="1513" y="866" width="5" height="1"/>
<rect x="1520" y="866" width="5" height="2"/>
<rect x="1527" y="866" width="5" height="3"/>
<rect x="1534" y="866" width="5" height="3"/>
<rect x="1541" y="866" width="5" height="5"/>
<rect x="1548" y="866" width="5" height="6"/>
</g>
<polyline fill="none" stroke="#00ff00" stroke-width="1" shape-rendering="crispEdges" stroke-dasharray="6 4" points="3.5,869.0 10.5,868.6 17.5,868.1 24.5,866.9 31.5,865.6 38.5,864.3 45.5,863.1 52.5,862.0 59.5,861.1 66.5,860.3 73.5,859.6 80.5,859.1 87.5,858.7 94.5,858.5 101.5,858.3 108.5,858.2 115.5,858.0 122.5,858.4 129.5,858.9 136.5,859.7 143.5,860.8 150.5,862.2 157.5,863.5 164.5,864.8 171.5,866.2 178.5,867.5 185.5,867.2 192.5,865.8 199.5,863.7 206.5,861.5 213.5,859.3 220.5,857.4 227.5,855.7 234.5,854.0 241.5,852.2 248.5,850.3 255.5,848.6 262.5,847.2 269.5,846.1 276.5,845.4 283.5,845.3 290.5,845.2 297.5,845.2 304.5,845.3 311.5,845.5 318.5,846.1 325.5,846.8 332.5,847.3 339.5,847.5 346.5,847.6 353.5,847.4 360.5,847.0 367.5,846.4 374.5,846.1 381.5,846.7 388.5,847.9 395.5,849.4 402.5,851.4 409.5,853.6 416.5,855.0 423.5,856.0 430.5,856.8 437.5,857.3 444.5,857.8 451.5,858.3 458.5,858.4 465.5,858.4 472.5,858.4 479.5,858.3 486.5,858.3 493.5,858.4 500.5,858.3 507.5,857.9 514.5,857.7 521.5,857.6 528.5,857.7 535.5,857.5 542.5,857.6 549.5,857.6 556.5,857.6 563.5,857.7 570.5,858.1 577.5,858.6 584.5,859.1 591.5,859.9 598.5,861.4 605.5,863.1 612.5,864.7 619.5,866.2 626.5,867.5 633.5,868.5 640.5,869.4 647.5,870.1 654.5,870.5 661.5,871.4 668.5,872.7 675.5,873.9 682.5,875.9 689.5,878.3 696.5,880.7 703.5,883.0 710.5,885.1 717.5,887.5 724.5,890.0 731.5,892.5 738.5,894.7 745.5,896.6 752.5,898.2 759.5,899.5 766.5,900.5 773.5,901.1 780.5,901.3 787.5,901.2 794.5,900.7 801.5,899.5 808.5,898.9 815.5,898.7 822.5,898.6 829.5,898.5 836.5,898.8 843.5,899.3 850.5,899.8 857.5,899.8 864.5,899.6 871.5,899.0 878.5,897.9 885.5,897.3 892.5,896.9 899.5,895.7 906.5,894.1 913.5,892.2 920.5,890.2 927.5,888.0 934.5,886.2 941.5,884.6 948.5,883.4 955.5,882.3 962.5,881.4 969.5,880.5 976.5,879.5 983.5,878.4 990.5,877.0 997.5,875.3 1004.5,873.6 1011.5,871.3 1018.5,868.6 1025.5,865.5 1032.5,862.2 1039.5,858.9 1046.5,855.5 1053.5,852.2 1060.5,849.0 1067.5,846.5 1074.5,844.5 1081.5,843.1 1088.5,842.2 1095.5,842.3 1102.5,842.9 1109.5,843.5 1116.5,844.2 1123.5,844.9 1130.5,845.7 1137.5,846.9 1144.5,848.3 1151.5,849.6 1158.5,851.1 1165.5,852.7 1172.5,854.1 1179.5,855.6 1186.5,857.1 1193.5,858.5 1200.5,859.6 1207.5,860.7 1214.5,861.6 1221.5,862.5 1228.5,863.3 1235.5,864.3 1242.5,865.3 1249.5,866.1 1256.5,867.1 1263.5,868.1 1270.5,868.9 1277.5,869.6 1284.5,869.9 1291.5,870.1 1298.5,870.4 1305.5,870.5 1312.5,871.3 1319.5,872.7 1326.5,874.3 1333.5,875.9 1340.5,877.6 1347.5,879.5 1354.5,881.4 1361.5,883.1 1368.5,884.3 1375.5,884.7 1382.5,884.8 1389.5,884.7 1396.5,884.3 1403.5,883.1 1410.5,881.7 1417.5,879.8 1424.5,877.9 1431.5,876.0 1438.5,874.1 1445.5,872.4 1452.5,871.3 1459.5,870.2 1466.5,869.0 1473.5,868.0 1480.5,867.1 1487.5,866.4 1494.5,866.2 1501.5,866.0 1508.5,865.9 1515.5,866.2 1522.5,866.7 1529.5,867.3 1536.5,868.0 1543.5,869.2 1550.5,870.8"/>
<polyline fill="none" stroke="#0000ff" stroke-width="1" shape-rendering="crispEdges"  points="3.5,867.9 10.5,867.3 17.5,866.0 24.5,862.2 31.5,860.2 38.5,859.0 45.5,858.4 52.5,857.9 59.5,857.3 66.5,857.1 73.5,856.9 80.5,856.9 87.5,857.2 94.5,857.6 101.5,857.7 108.5,857.5 115.5,857.4 122.5,859.9 129.5,861.0 136.5,862.7 143.5,865.2 150.5,867.7 157.5,868.6 164.5,870.3 171.5,871.5 178.5,872.8 185.5,866.1 192.5,860.0 199.5,855.3 206.5,852.6 213.5,850.9 220.5,849.7 227.5,849.0 234.5,847.1 241.5,845.0 248.5,842.8 255.5,841.6 262.5,841.5 269.5,842.0 276.5,842.4 283.5,844.9 290.5,845.0 297.5,845.3 304.5,845.7 311.5,846.3 318.5,848.5 325.5,849.3 332.5,849.6 339.5,848.4 346.5,847.7 353.5,846.7 360.5,845.2 367.5,844.0 374.5,845.1 381.5,849.1 388.5,852.6 395.5,855.6 402.5,859.3 409.5,862.3 416.5,860.9 423.5,859.9 430.5,859.9 437.5,859.5 444.5,859.7 451.5,860.4 458.5,858.7 465.5,858.4 472.5,858.2 479.5,858.0 486.5,858.3 493.5,859.1 500.5,857.6 507.5,856.6 514.5,856.9 521.5,857.3 528.5,857.8 535.5,856.9 542.5,857.9 549.5,857.4 556.5,857.7 563.5,858.2 570.5,859.7 577.5,860.7 584.5,861.2 591.5,863.1 598.5,867.2 605.5,869.8 612.5,871.3 619.5,872.2 626.5,872.6 633.5,872.6 640.5,872.9 647.5,872.9 654.5,872.2 661.5,875.2 668.5,877.8 675.5,878.8 682.5,883.7 689.5,887.9 696.5,890.5 703.5,892.1 710.5,893.5 717.5,897.2 724.5,900.0 731.5,902.3 738.5,903.7 745.5,904.0 752.5,904.5 759.5,904.6 766.5,904.7 773.5,903.5 780.5,902.3 787.5,900.7 794.5,898.7 801.5,894.8 808.5,896.3 815.5,897.8 822.5,898.1 829.5,898.2 836.5,900.0 843.5,901.2 850.5,901.7 857.5,900.1 864.5,898.7 871.5,896.3 878.5,893.9 885.5,894.9 892.5,895.3 899.5,890.6 906.5,887.7 913.5,884.7 920.5,882.4 927.5,879.0 934.5,878.8 941.5,878.4 948.5,878.4 955.5,878.2 962.5,877.7 969.5,877.0 976.5,875.1 983.5,874.1 990.5,871.5 997.5,868.6 1004.5,866.5 1011.5,862.3 1018.5,857.8 1025.5,852.9 1032.5,849.1 1039.5,846.0 1046.5,841.9 1053.5,839.1 1060.5,836.2 1067.5,836.2 1074.5,836.5 1081.5,837.6 1088.5,838.5 1095.5,842.8 1102.5,845.3 1109.5,846.1 1116.5,846.9 1123.5,847.8 1130.5,848.9 1137.5,851.6 1144.5,853.8 1151.5,854.8 1158.5,857.2 1165.5,858.8 1172.5,859.8 1179.5,861.6 1186.5,863.3 1193.5,863.9 1200.5,864.3 1207.5,864.9 1214.5,865.1 1221.5,866.1 1228.5,866.7 1235.5,868.2 1242.5,869.1 1249.5,869.6 1256.5,870.8 1263.5,872.0 1270.5,872.4 1277.5,872.5 1284.5,871.0 1291.5,870.9 1298.5,871.5 1305.5,871.1 1312.5,874.3 1319.5,878.4 1326.5,880.5 1333.5,882.2 1340.5,884.7 1347.5,887.0 1354.5,889.1 1361.5,889.7 1368.5,889.1 1375.5,886.5 1382.5,885.3 1389.5,884.2 1396.5,882.5 1403.5,878.6 1410.5,875.7 1417.5,872.6 1424.5,870.2 1431.5,868.5 1438.5,866.4 1445.5,865.5 1452.5,867.1 1459.5,865.9 1466.5,864.2 1473.5,863.9 1480.5,863.2 1487.5,863.9 1494.5,865.3 1501.5,865.3 1508.5,865.5 1515.5,867.4 1522.5,868.3 1529.5,870.1 1536.5,870.6 1543.5,874.2 1550.5,876.9"/>
<g shape-rendering="crispEdges">
<rect x="1582" y="853" width="5" height="1" fill="#000" />
<rect x="1582" y="883" width="5" height="1" fill="#000" />
<rect x="1551" y="871" width="30" height="2" fill="#000" />
<rect x="1551" y="877" width="30" height="1" fill="#000" />
</g>
<text x="1618" y="858" text-anchor="middle" fill="#000" font-size="12" textLength="57.5">0.0020615</text>
<text x="1618.5" y="889" text-anchor="middle" fill="#000" font-size="12" >-0.0020592</text>
<g shape-rendering="crispEdges">
<rect x="1583" y="863" width="71" height="23" fill="#000" />
<rect x="1584" y="881" width="69" height="4" fill="#0000ff" />
<rect x="1584" y="865" width="69" height="15" fill="#ff0000" />
</g>
<clipPath id="cbl"><rect x="1584" y="881" width="69" height="4"/></clipPath>
<text x="1618.5" y="883" text-anchor="middle" fill="#fff" font-size="12" clip-path="url(#cbl)">-0.0017080</text>
<text x="1618.5" y="878" text-anchor="middle" fill="#fff" font-size="12" >-0.0009598</text>
<g shape-rendering="crispEdges">
<rect x="98" y="913" width="1" height="12" fill="#000" />
<rect x="315" y="913" width="1" height="12" fill="#000" />
<rect x="532" y="913" width="1" height="12" fill="#000" />
<rect x="749" y="913" width="1" height="12" fill="#000" />
<rect x="966" y="913" width="1" height="12" fill="#000" />
<rect x="1183" y="913" width="1" height="12" fill="#000" />
<rect x="1400" y="913" width="1" height="12" fill="#000" />
<rect x="441" y="926" width="1" height="11" fill="#000" />
<rect x="1393" y="926" width="1" height="11" fill="#000" />
</g>
<text x="5.5" y="923" text-anchor="start" fill="#000" font-size="12" textLength="47">16 week</text>
<text x="103.5" y="923" text-anchor="start" fill="#000" font-size="12" textLength="47">17 week</text>
<text x="320.5" y="923" text-anchor="start" fill="#000" font-size="12" textLength="47">18 week</text>
<text x="537.5" y="923" text-anchor="start" fill="#000" font-size="12" textLength="47">19 week</text>
<text x="754.5" y="923" text-anchor="start" fill="#000" font-size="12" textLength="47">20 week</text>
<text x="971.5" y="923" text-anchor="start" fill="#000" font-size="12" textLength="47">21 week</text>
<text x="1188.5" y="923" text-anchor="start" fill="#000" font-size="12" textLength="47">22 week</text>
<text x="1405.5" y="923" text-anchor="start" fill="#000" font-size="12" textLength="47">23 week</text>
<text x="196" y="935" text-anchor="start" fill="#000" font-size="12" textLength="50.5">Apr 2014</text>
<text x="891.5" y="935" text-anchor="start" fill="#000" font-size="12" textLength="54.5">May 2014</text>
<text x="1462" y="935" text-anchor="start" fill="#000" font-size="12" textLength="51">Jun 2014</text>
</svg>
</body></html>
